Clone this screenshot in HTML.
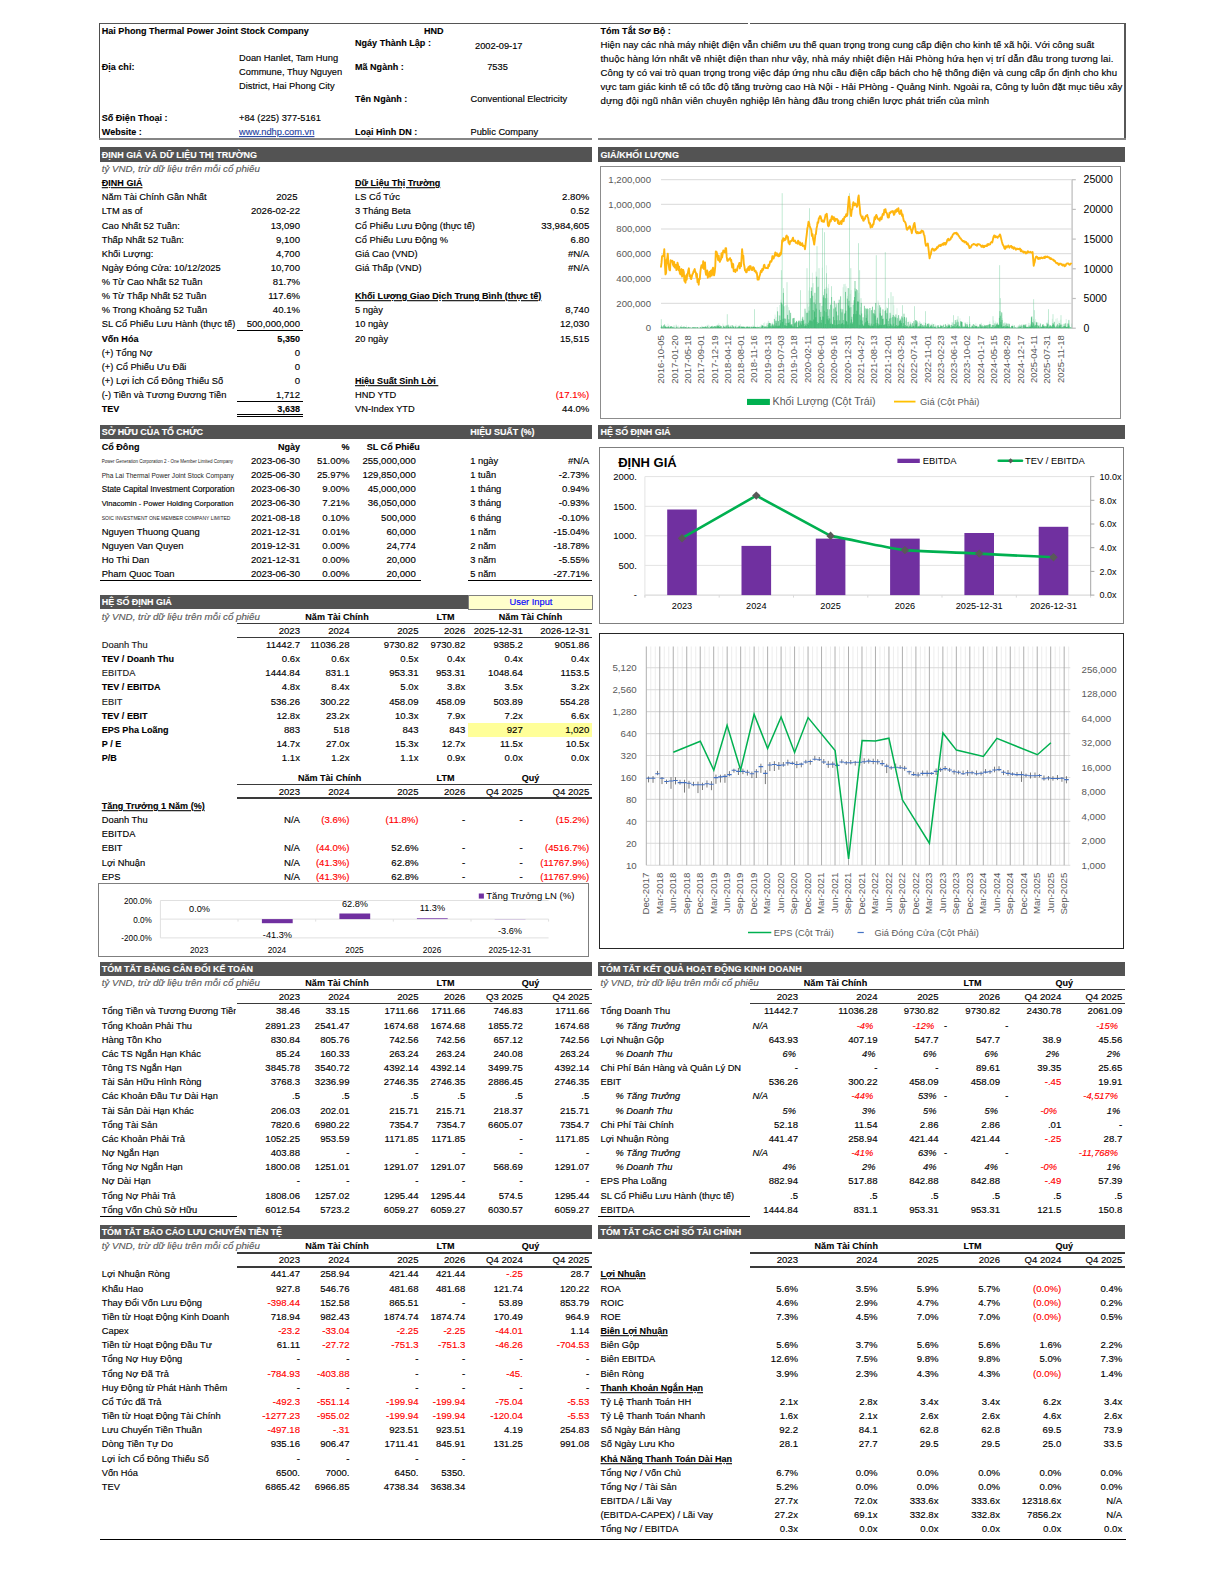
<!DOCTYPE html>
<html><head><meta charset="utf-8"><title>HND</title><style>
html,body{margin:0;padding:0;background:#fff}
#pg{position:relative;width:1224px;height:1584px;overflow:hidden;background:#fff;font-family:"Liberation Sans",sans-serif;font-size:9.3px;color:#000}
.t{position:absolute;white-space:nowrap;line-height:14px;height:14px;transform:scaleY(1.035);transform-origin:50% 62%;-webkit-text-stroke:0.14px currentColor}
.b{font-weight:bold;font-size:9.05px;transform:scaleY(1.07);-webkit-text-stroke:0.1px currentColor}
.i{font-style:italic;transform:none}
.u{text-decoration:underline}
.r{position:absolute}
svg{position:absolute;left:0;top:0;overflow:visible}
svg text{font-family:"Liberation Sans",sans-serif}
</style></head><body><div id="pg">
<div class="r" style="left:99.00px;top:22.90px;width:1027.00px;height:1.40px;background:#555;"></div>
<div class="r" style="left:748.00px;top:22.00px;width:2.00px;height:3.00px;background:#fff;"></div>
<div class="r" style="left:99.00px;top:23.00px;width:1.10px;height:116.80px;background:#4d4d4d;"></div>
<div class="r" style="left:1124.00px;top:23.00px;width:2.00px;height:116.80px;background:#575757;"></div>
<div class="r" style="left:99.00px;top:138.10px;width:493.00px;height:1.80px;background:#858585;"></div>
<div class="r" style="left:598.00px;top:138.10px;width:528.00px;height:1.80px;background:#858585;"></div>
<div class="t b" style="top:24.00px;left:101.75px">Hai Phong Thermal Power Joint Stock Company</div>
<div class="t b" style="top:24.00px;left:283.75px;width:300px;text-align:center">HND</div>
<div class="t b" style="top:60.10px;left:101.75px">Địa chỉ:</div>
<div class="t" style="top:51.20px;left:239.00px">Doan Hanlet, Tam Hung</div>
<div class="t" style="top:65.20px;left:239.00px">Commune, Thuy Nguyen</div>
<div class="t" style="top:79.20px;left:239.00px">District, Hai Phong City</div>
<div class="t b" style="top:110.70px;left:101.75px">Số Điện Thoại :</div>
<div class="t" style="top:110.70px;left:239.00px">+84 (225) 377-5161</div>
<div class="t b" style="top:124.70px;left:101.75px">Website :</div>
<div class="t u" style="top:124.70px;left:239.00px;color:#1f3f9f">www.ndhp.com.vn</div>
<div class="t b" style="top:35.90px;left:355.00px">Ngáy Thành Lập :</div>
<div class="t" style="top:39.00px;left:348.75px;width:300px;text-align:center">2002-09-17</div>
<div class="t b" style="top:60.10px;left:355.00px">Mã Ngành :</div>
<div class="t" style="top:60.10px;left:347.50px;width:300px;text-align:center">7535</div>
<div class="t b" style="top:92.10px;left:355.00px">Tên Ngành :</div>
<div class="t" style="top:92.10px;left:470.50px">Conventional Electricity</div>
<div class="t b" style="top:125.00px;left:355.00px">Loại Hình DN :</div>
<div class="t" style="top:125.00px;left:470.50px">Public Company</div>
<div class="t b" style="top:24.00px;left:600.50px">Tóm Tắt Sơ Bộ :</div>
<div class="t" style="top:37.90px;left:600.50px;font-size:9.6px;letter-spacing:0.004px">Hiện nay các nhà máy nhiệt điện vẫn chiếm ưu thế quan trọng trong cung cấp điện cho kinh tế xã hội. Với công suất</div>
<div class="t" style="top:51.90px;left:600.50px;font-size:9.6px;letter-spacing:0.122px">thuộc hàng lớn nhất về nhiệt điện than như vậy, nhà máy nhiệt điện Hải Phòng hứa hẹn vị trí dẫn đầu trong tương lai.</div>
<div class="t" style="top:65.90px;left:600.50px;font-size:9.6px;letter-spacing:0.067px">Công ty có vai trò quan trọng trong việc đáp ứng nhu cầu điện cấp bách cho hệ thống điện và cung cấp ổn định cho khu</div>
<div class="t" style="top:79.90px;left:600.50px;font-size:9.6px;letter-spacing:0.026px">vực tam giác kinh tế có tốc độ tăng trường cao Hà Nội - Hải PHòng - Quảng Ninh. Ngoài ra, Công ty luôn đặt mục tiêu xây</div>
<div class="t" style="top:93.90px;left:600.50px;font-size:9.6px;letter-spacing:0.086px">dựng đội ngũ nhân viên chuyên nghiệp lên hàng đầu trong chiến lược phát triển của mình</div>
<div class="r" style="left:100.00px;top:147.10px;width:492.00px;height:14.50px;background:#535353;"></div>
<div class="t b" style="top:147.55px;left:101.75px;color:#fff;font-size:9.0px;transform:scaleY(1.1);letter-spacing:0.005px">ĐỊNH GIÁ VÀ DỮ LIỆU THỊ TRƯỜNG</div>
<div class="t i" style="top:162.12px;left:101.75px;color:#595959;font-size:9.75px">tỷ VND, trừ dữ liệu trên mỗi cổ phiếu</div>
<div class="t b u" style="top:176.24px;left:101.75px">ĐỊNH GIÁ</div>
<div class="t" style="top:190.36px;left:101.75px">Năm Tài Chính Gần Nhất</div>
<div class="t" style="top:190.36px;right:926.50px;font-size:9.6px">2025</div>
<div class="t" style="top:204.48px;left:101.75px">LTM as of</div>
<div class="t" style="top:204.48px;right:924.00px;font-size:9.6px">2026-02-22</div>
<div class="t" style="top:218.60px;left:101.75px">Cao Nhất 52 Tuần:</div>
<div class="t" style="top:218.60px;right:924.00px;font-size:9.6px">13,090</div>
<div class="t" style="top:232.72px;left:101.75px">Thấp Nhất 52 Tuần:</div>
<div class="t" style="top:232.72px;right:924.00px;font-size:9.6px">9,100</div>
<div class="t" style="top:246.84px;left:101.75px">Khối Lượng:</div>
<div class="t" style="top:246.84px;right:924.00px;font-size:9.6px">4,700</div>
<div class="t" style="top:260.96px;left:101.75px">Ngày Đóng Cửa: 10/12/2025</div>
<div class="t" style="top:260.96px;right:924.00px;font-size:9.6px">10,700</div>
<div class="t" style="top:275.08px;left:101.75px">% Từ Cao Nhất 52 Tuần</div>
<div class="t" style="top:275.08px;right:924.00px;font-size:9.6px">81.7%</div>
<div class="t" style="top:289.20px;left:101.75px">% Từ Thấp Nhất 52 Tuần</div>
<div class="t" style="top:289.20px;right:924.00px;font-size:9.6px">117.6%</div>
<div class="t" style="top:303.32px;left:101.75px">% Trong Khoảng 52 Tuần</div>
<div class="t" style="top:303.32px;right:924.00px;font-size:9.6px">40.1%</div>
<div class="t" style="top:317.44px;left:101.75px">SL Cổ Phiếu Lưu Hành (thực tế)</div>
<div class="t" style="top:317.44px;right:924.00px;font-size:9.6px">500,000,000</div>
<div class="t b" style="top:331.56px;left:101.75px">Vốn Hóa</div>
<div class="t b" style="top:331.56px;right:924.00px">5,350</div>
<div class="t" style="top:345.68px;left:101.75px">(+) Tổng Nợ</div>
<div class="t" style="top:345.68px;right:924.00px;font-size:9.6px">0</div>
<div class="t" style="top:359.80px;left:101.75px">(+) Cổ Phiếu Ưu Đãi</div>
<div class="t" style="top:359.80px;right:924.00px;font-size:9.6px">0</div>
<div class="t" style="top:373.92px;left:101.75px">(+) Lợi Ích Cổ Đông Thiếu Số</div>
<div class="t" style="top:373.92px;right:924.00px;font-size:9.6px">0</div>
<div class="t" style="top:388.04px;left:101.75px">(-) Tiền và Tương Đương Tiền</div>
<div class="t" style="top:388.04px;right:924.00px;font-size:9.6px">1,712</div>
<div class="t b" style="top:402.16px;left:101.75px">TEV</div>
<div class="t b" style="top:402.16px;right:924.00px">3,638</div>
<div class="r" style="left:236.75px;top:330.14px;width:66.00px;height:1.00px;background:#000;"></div>
<div class="r" style="left:236.75px;top:400.74px;width:66.00px;height:1.00px;background:#000;"></div>
<div class="r" style="left:236.75px;top:413.86px;width:66.00px;height:1.00px;background:#000;"></div>
<div class="r" style="left:236.75px;top:416.06px;width:66.00px;height:1.00px;background:#000;"></div>
<div class="t b u" style="top:176.24px;left:355.00px">Dữ Liệu Thị Trường</div>
<div class="t" style="top:190.36px;left:355.00px">LS Cổ Tức</div>
<div class="t" style="top:190.36px;right:634.75px;font-size:9.6px">2.80%</div>
<div class="t" style="top:204.48px;left:355.00px">3 Tháng Beta</div>
<div class="t" style="top:204.48px;right:634.75px;font-size:9.6px">0.52</div>
<div class="t" style="top:218.60px;left:355.00px">Cổ Phiếu Lưu Động (thực tế)</div>
<div class="t" style="top:218.60px;right:634.75px;font-size:9.6px">33,984,605</div>
<div class="t" style="top:232.72px;left:355.00px">Cổ Phiếu Lưu Động %</div>
<div class="t" style="top:232.72px;right:634.75px;font-size:9.6px">6.80</div>
<div class="t" style="top:246.84px;left:355.00px">Giá Cao (VND)</div>
<div class="t" style="top:246.84px;right:634.75px;font-size:9.6px">#N/A</div>
<div class="t" style="top:260.96px;left:355.00px">Giá Thấp (VND)</div>
<div class="t" style="top:260.96px;right:634.75px;font-size:9.6px">#N/A</div>
<div class="t b u" style="top:289.20px;left:355.00px">Khối Lượng Giao Dịch Trung Bình (thực tế)</div>
<div class="t" style="top:303.32px;left:355.00px">5 ngày</div>
<div class="t" style="top:303.32px;right:634.75px;font-size:9.6px">8,740</div>
<div class="t" style="top:317.44px;left:355.00px">10 ngày</div>
<div class="t" style="top:317.44px;right:634.75px;font-size:9.6px">12,030</div>
<div class="t" style="top:331.56px;left:355.00px">20 ngày</div>
<div class="t" style="top:331.56px;right:634.75px;font-size:9.6px">15,515</div>
<div class="t b u" style="top:373.92px;left:355.00px;white-space:pre">Hiệu Suất Sinh Lời </div>
<div class="t" style="top:388.04px;left:355.00px">HND YTD</div>
<div class="t" style="top:388.04px;right:634.75px;color:#ff0000;font-size:9.6px">(17.1%)</div>
<div class="t" style="top:402.16px;left:355.00px">VN-Index YTD</div>
<div class="t" style="top:402.16px;right:634.75px;font-size:9.6px">44.0%</div>
<div class="r" style="left:100.00px;top:424.50px;width:492.00px;height:14.00px;background:#535353;"></div>
<div class="t b" style="top:424.70px;left:101.75px;color:#fff;font-size:9.0px;transform:scaleY(1.1);letter-spacing:-0.085px">SỞ HỮU CỦA TỔ CHỨC</div>
<div class="t b" style="top:425.00px;left:470.25px;color:#fff;font-size:9.0px;transform:scaleY(1.1);letter-spacing:-0.058px">HIỆU SUẤT (%)</div>
<div class="t b" style="top:439.67px;left:101.75px">Cổ Đông</div>
<div class="t b" style="top:439.67px;right:924.00px">Ngày</div>
<div class="t b" style="top:439.67px;right:874.50px">%</div>
<div class="t b" style="top:439.67px;left:243.25px;width:300px;text-align:center">SL Cổ Phiếu</div>
<div class="t" style="top:454.74px;left:101.75px;font-size:4.5px;-webkit-text-stroke:0;color:#222">Power Generation Corporation 2 - One Member Limited Company</div>
<div class="t" style="top:453.84px;right:924.00px;font-size:9.6px">2023-06-30</div>
<div class="t" style="top:453.84px;right:874.50px;font-size:9.6px">51.00%</div>
<div class="t" style="top:453.84px;right:808.25px;font-size:9.6px">255,000,000</div>
<div class="t" style="top:453.84px;left:470.25px">1 ngày</div>
<div class="t" style="top:453.84px;right:634.75px;font-size:9.6px">#N/A</div>
<div class="t" style="top:468.91px;left:101.75px;font-size:6.55px;-webkit-text-stroke:0;color:#222">Pha Lai Thermal Power Joint Stock Company</div>
<div class="t" style="top:468.01px;right:924.00px;font-size:9.6px">2025-06-30</div>
<div class="t" style="top:468.01px;right:874.50px;font-size:9.6px">25.97%</div>
<div class="t" style="top:468.01px;right:808.25px;font-size:9.6px">129,850,000</div>
<div class="t" style="top:468.01px;left:470.25px">1 tuần</div>
<div class="t" style="top:468.01px;right:634.75px;font-size:9.6px">-2.73%</div>
<div class="t" style="top:483.08px;left:101.75px;font-size:8.1px">State Capital Investment Corporation</div>
<div class="t" style="top:482.18px;right:924.00px;font-size:9.6px">2023-06-30</div>
<div class="t" style="top:482.18px;right:874.50px;font-size:9.6px">9.00%</div>
<div class="t" style="top:482.18px;right:808.25px;font-size:9.6px">45,000,000</div>
<div class="t" style="top:482.18px;left:470.25px">1 tháng</div>
<div class="t" style="top:482.18px;right:634.75px;font-size:9.6px">0.94%</div>
<div class="t" style="top:497.25px;left:101.75px;font-size:7.5px">Vinacomin - Power Holding Corporation</div>
<div class="t" style="top:496.35px;right:924.00px;font-size:9.6px">2023-06-30</div>
<div class="t" style="top:496.35px;right:874.50px;font-size:9.6px">7.21%</div>
<div class="t" style="top:496.35px;right:808.25px;font-size:9.6px">36,050,000</div>
<div class="t" style="top:496.35px;left:470.25px">3 tháng</div>
<div class="t" style="top:496.35px;right:634.75px;font-size:9.6px">-0.93%</div>
<div class="t" style="top:511.42px;left:101.75px;font-size:5.0px;-webkit-text-stroke:0;color:#222">SOIC INVESTMENT ONE MEMBER COMPANY LIMITED</div>
<div class="t" style="top:510.52px;right:924.00px;font-size:9.6px">2021-08-18</div>
<div class="t" style="top:510.52px;right:874.50px;font-size:9.6px">0.10%</div>
<div class="t" style="top:510.52px;right:808.25px;font-size:9.6px">500,000</div>
<div class="t" style="top:510.52px;left:470.25px">6 tháng</div>
<div class="t" style="top:510.52px;right:634.75px;font-size:9.6px">-0.10%</div>
<div class="t" style="top:524.69px;left:101.75px;font-size:9.45px">Nguyen Thuong Quang</div>
<div class="t" style="top:524.69px;right:924.00px;font-size:9.6px">2021-12-31</div>
<div class="t" style="top:524.69px;right:874.50px;font-size:9.6px">0.01%</div>
<div class="t" style="top:524.69px;right:808.25px;font-size:9.6px">60,000</div>
<div class="t" style="top:524.69px;left:470.25px">1 năm</div>
<div class="t" style="top:524.69px;right:634.75px;font-size:9.6px">-15.04%</div>
<div class="t" style="top:538.86px;left:101.75px;font-size:9.45px">Nguyen Van Quyen</div>
<div class="t" style="top:538.86px;right:924.00px;font-size:9.6px">2019-12-31</div>
<div class="t" style="top:538.86px;right:874.50px;font-size:9.6px">0.00%</div>
<div class="t" style="top:538.86px;right:808.25px;font-size:9.6px">24,774</div>
<div class="t" style="top:538.86px;left:470.25px">2 năm</div>
<div class="t" style="top:538.86px;right:634.75px;font-size:9.6px">-18.78%</div>
<div class="t" style="top:553.03px;left:101.75px;font-size:9.45px">Ho Thi Dan</div>
<div class="t" style="top:553.03px;right:924.00px;font-size:9.6px">2021-12-31</div>
<div class="t" style="top:553.03px;right:874.50px;font-size:9.6px">0.00%</div>
<div class="t" style="top:553.03px;right:808.25px;font-size:9.6px">20,000</div>
<div class="t" style="top:553.03px;left:470.25px">3 năm</div>
<div class="t" style="top:553.03px;right:634.75px;font-size:9.6px">-5.55%</div>
<div class="t" style="top:567.20px;left:101.75px;font-size:9.45px">Pham Quoc Toan</div>
<div class="t" style="top:567.20px;right:924.00px;font-size:9.6px">2023-06-30</div>
<div class="t" style="top:567.20px;right:874.50px;font-size:9.6px">0.00%</div>
<div class="t" style="top:567.20px;right:808.25px;font-size:9.6px">20,000</div>
<div class="t" style="top:567.20px;left:470.25px">5 năm</div>
<div class="t" style="top:567.20px;right:634.75px;font-size:9.6px">-27.71%</div>
<div class="r" style="left:99.50px;top:580.15px;width:321.50px;height:1.30px;background:#000;"></div>
<div class="r" style="left:468.00px;top:580.15px;width:124.00px;height:1.30px;background:#000;"></div>
<div class="r" style="left:100.00px;top:595.00px;width:368.00px;height:13.90px;background:#535353;"></div>
<div class="t b" style="top:595.15px;left:101.75px;color:#fff;font-size:9.0px;transform:scaleY(1.1);letter-spacing:-0.073px">HỆ SỐ ĐỊNH GIÁ</div>
<div class="r" style="left:468px;top:594.5px;width:123px;height:13.8px;background:#ffffcc;border:1px solid #808080"></div>
<div class="t" style="top:595.30px;left:381.00px;width:300px;text-align:center;color:#0000ff">User Input</div>
<div class="t i" style="top:610.15px;left:101.75px;color:#595959;font-size:9.75px">tỷ VND, trừ dữ liệu trên mỗi cổ phiếu</div>
<div class="t b" style="top:610.15px;left:187.00px;width:300px;text-align:center">Năm Tài Chính</div>
<div class="t b" style="top:610.15px;left:295.50px;width:300px;text-align:center">LTM</div>
<div class="t b" style="top:610.15px;left:380.50px;width:300px;text-align:center">Năm Tài Chính</div>
<div class="r" style="left:236.75px;top:622.60px;width:355.25px;height:1.40px;background:#3a3a3a;"></div>
<div class="r" style="left:236.75px;top:636.65px;width:355.25px;height:1.70px;background:#3a3a3a;"></div>
<div class="t" style="top:624.15px;right:924.00px;font-size:9.6px">2023</div>
<div class="t" style="top:624.15px;right:874.50px;font-size:9.6px">2024</div>
<div class="t" style="top:624.15px;right:805.50px;font-size:9.6px">2025</div>
<div class="t" style="top:624.15px;right:758.75px;font-size:9.6px">2026</div>
<div class="t" style="top:624.15px;right:701.25px;font-size:9.6px">2025-12-31</div>
<div class="t" style="top:624.15px;right:634.75px;font-size:9.6px">2026-12-31</div>
<div class="r" style="left:468.00px;top:722.60px;width:124.00px;height:14.20px;background:#ffff99;"></div>
<div class="t" style="top:638.15px;left:101.75px;color:#1a1a1a">Doanh Thu</div>
<div class="t" style="top:638.15px;right:924.00px;font-size:9.6px">11442.7</div>
<div class="t" style="top:638.15px;right:874.50px;font-size:9.6px">11036.28</div>
<div class="t" style="top:638.15px;right:805.50px;font-size:9.6px">9730.82</div>
<div class="t" style="top:638.15px;right:758.75px;font-size:9.6px">9730.82</div>
<div class="t" style="top:638.15px;right:701.25px;font-size:9.6px">9385.2</div>
<div class="t" style="top:638.15px;right:634.75px;font-size:9.6px">9051.86</div>
<div class="t b" style="top:652.15px;left:101.75px;color:#000">TEV / Doanh Thu</div>
<div class="t" style="top:652.15px;right:924.00px;font-size:9.6px">0.6x</div>
<div class="t" style="top:652.15px;right:874.50px;font-size:9.6px">0.6x</div>
<div class="t" style="top:652.15px;right:805.50px;font-size:9.6px">0.5x</div>
<div class="t" style="top:652.15px;right:758.75px;font-size:9.6px">0.4x</div>
<div class="t" style="top:652.15px;right:701.25px;font-size:9.6px">0.4x</div>
<div class="t" style="top:652.15px;right:634.75px;font-size:9.6px">0.4x</div>
<div class="t" style="top:666.15px;left:101.75px;color:#1a1a1a">EBITDA</div>
<div class="t" style="top:666.15px;right:924.00px;font-size:9.6px">1444.84</div>
<div class="t" style="top:666.15px;right:874.50px;font-size:9.6px">831.1</div>
<div class="t" style="top:666.15px;right:805.50px;font-size:9.6px">953.31</div>
<div class="t" style="top:666.15px;right:758.75px;font-size:9.6px">953.31</div>
<div class="t" style="top:666.15px;right:701.25px;font-size:9.6px">1048.64</div>
<div class="t" style="top:666.15px;right:634.75px;font-size:9.6px">1153.5</div>
<div class="t b" style="top:680.15px;left:101.75px;color:#000">TEV / EBITDA</div>
<div class="t" style="top:680.15px;right:924.00px;font-size:9.6px">4.8x</div>
<div class="t" style="top:680.15px;right:874.50px;font-size:9.6px">8.4x</div>
<div class="t" style="top:680.15px;right:805.50px;font-size:9.6px">5.0x</div>
<div class="t" style="top:680.15px;right:758.75px;font-size:9.6px">3.8x</div>
<div class="t" style="top:680.15px;right:701.25px;font-size:9.6px">3.5x</div>
<div class="t" style="top:680.15px;right:634.75px;font-size:9.6px">3.2x</div>
<div class="t" style="top:694.65px;left:101.75px;color:#1a1a1a">EBIT</div>
<div class="t" style="top:694.65px;right:924.00px;font-size:9.6px">536.26</div>
<div class="t" style="top:694.65px;right:874.50px;font-size:9.6px">300.22</div>
<div class="t" style="top:694.65px;right:805.50px;font-size:9.6px">458.09</div>
<div class="t" style="top:694.65px;right:758.75px;font-size:9.6px">458.09</div>
<div class="t" style="top:694.65px;right:701.25px;font-size:9.6px">503.89</div>
<div class="t" style="top:694.65px;right:634.75px;font-size:9.6px">554.28</div>
<div class="t b" style="top:708.90px;left:101.75px;color:#000">TEV / EBIT</div>
<div class="t" style="top:708.90px;right:924.00px;font-size:9.6px">12.8x</div>
<div class="t" style="top:708.90px;right:874.50px;font-size:9.6px">23.2x</div>
<div class="t" style="top:708.90px;right:805.50px;font-size:9.6px">10.3x</div>
<div class="t" style="top:708.90px;right:758.75px;font-size:9.6px">7.9x</div>
<div class="t" style="top:708.90px;right:701.25px;font-size:9.6px">7.2x</div>
<div class="t" style="top:708.90px;right:634.75px;font-size:9.6px">6.6x</div>
<div class="t b" style="top:723.15px;left:101.75px;color:#000">EPS Pha Loãng</div>
<div class="t" style="top:723.15px;right:924.00px;font-size:9.6px">883</div>
<div class="t" style="top:723.15px;right:874.50px;font-size:9.6px">518</div>
<div class="t" style="top:723.15px;right:805.50px;font-size:9.6px">843</div>
<div class="t" style="top:723.15px;right:758.75px;font-size:9.6px">843</div>
<div class="t" style="top:723.15px;right:701.25px;font-size:9.6px">927</div>
<div class="t" style="top:723.15px;right:634.75px;font-size:9.6px">1,020</div>
<div class="t b" style="top:737.15px;left:101.75px;color:#000">P / E</div>
<div class="t" style="top:737.15px;right:924.00px;font-size:9.6px">14.7x</div>
<div class="t" style="top:737.15px;right:874.50px;font-size:9.6px">27.0x</div>
<div class="t" style="top:737.15px;right:805.50px;font-size:9.6px">15.3x</div>
<div class="t" style="top:737.15px;right:758.75px;font-size:9.6px">12.7x</div>
<div class="t" style="top:737.15px;right:701.25px;font-size:9.6px">11.5x</div>
<div class="t" style="top:737.15px;right:634.75px;font-size:9.6px">10.5x</div>
<div class="t b" style="top:751.15px;left:101.75px;color:#000">P/B</div>
<div class="t" style="top:751.15px;right:924.00px;font-size:9.6px">1.1x</div>
<div class="t" style="top:751.15px;right:874.50px;font-size:9.6px">1.2x</div>
<div class="t" style="top:751.15px;right:805.50px;font-size:9.6px">1.1x</div>
<div class="t" style="top:751.15px;right:758.75px;font-size:9.6px">0.9x</div>
<div class="t" style="top:751.15px;right:701.25px;font-size:9.6px">0.0x</div>
<div class="t" style="top:751.15px;right:634.75px;font-size:9.6px">0.0x</div>
<div class="t b" style="top:770.90px;left:179.60px;width:300px;text-align:center">Năm Tài Chính</div>
<div class="t b" style="top:770.90px;left:295.50px;width:300px;text-align:center">LTM</div>
<div class="t b" style="top:770.90px;left:380.50px;width:300px;text-align:center">Quý</div>
<div class="r" style="left:236.75px;top:783.60px;width:355.25px;height:1.40px;background:#3a3a3a;"></div>
<div class="r" style="left:236.75px;top:797.45px;width:355.25px;height:1.70px;background:#3a3a3a;"></div>
<div class="t" style="top:785.15px;right:924.00px;font-size:9.6px">2023</div>
<div class="t" style="top:785.15px;right:874.50px;font-size:9.6px">2024</div>
<div class="t" style="top:785.15px;right:805.50px;font-size:9.6px">2025</div>
<div class="t" style="top:785.15px;right:758.75px;font-size:9.6px">2026</div>
<div class="t" style="top:785.15px;right:701.25px;font-size:9.6px">Q4 2025</div>
<div class="t" style="top:785.15px;right:634.75px;font-size:9.6px">Q4 2025</div>
<div class="t b u" style="top:799.15px;left:101.75px">Tăng Trưởng 1 Năm (%)</div>
<div class="t" style="top:813.15px;left:101.75px">Doanh Thu</div>
<div class="t" style="top:813.15px;right:924.00px;font-size:9.6px">N/A</div>
<div class="t" style="top:813.15px;right:874.50px;color:#ff0000;font-size:9.6px">(3.6%)</div>
<div class="t" style="top:813.15px;right:805.50px;color:#ff0000;font-size:9.6px">(11.8%)</div>
<div class="t" style="top:813.15px;right:758.75px;font-size:9.6px">-</div>
<div class="t" style="top:813.15px;right:701.25px;font-size:9.6px">-</div>
<div class="t" style="top:813.15px;right:634.75px;color:#ff0000;font-size:9.6px">(15.2%)</div>
<div class="t" style="top:827.15px;left:101.75px">EBITDA</div>
<div class="t" style="top:841.15px;left:101.75px">EBIT</div>
<div class="t" style="top:841.15px;right:924.00px;font-size:9.6px">N/A</div>
<div class="t" style="top:841.15px;right:874.50px;color:#ff0000;font-size:9.6px">(44.0%)</div>
<div class="t" style="top:841.15px;right:805.50px;font-size:9.6px">52.6%</div>
<div class="t" style="top:841.15px;right:758.75px;font-size:9.6px">-</div>
<div class="t" style="top:841.15px;right:701.25px;font-size:9.6px">-</div>
<div class="t" style="top:841.15px;right:634.75px;color:#ff0000;font-size:9.6px">(4516.7%)</div>
<div class="t" style="top:855.90px;left:101.75px">Lợi Nhuận</div>
<div class="t" style="top:855.90px;right:924.00px;font-size:9.6px">N/A</div>
<div class="t" style="top:855.90px;right:874.50px;color:#ff0000;font-size:9.6px">(41.3%)</div>
<div class="t" style="top:855.90px;right:805.50px;font-size:9.6px">62.8%</div>
<div class="t" style="top:855.90px;right:758.75px;font-size:9.6px">-</div>
<div class="t" style="top:855.90px;right:701.25px;font-size:9.6px">-</div>
<div class="t" style="top:855.90px;right:634.75px;color:#ff0000;font-size:9.6px">(11767.9%)</div>
<div class="t" style="top:870.15px;left:101.75px">EPS</div>
<div class="t" style="top:870.15px;right:924.00px;font-size:9.6px">N/A</div>
<div class="t" style="top:870.15px;right:874.50px;color:#ff0000;font-size:9.6px">(41.3%)</div>
<div class="t" style="top:870.15px;right:805.50px;font-size:9.6px">62.8%</div>
<div class="t" style="top:870.15px;right:758.75px;font-size:9.6px">-</div>
<div class="t" style="top:870.15px;right:701.25px;font-size:9.6px">-</div>
<div class="t" style="top:870.15px;right:634.75px;color:#ff0000;font-size:9.6px">(11767.9%)</div>
<div class="r" style="left:100.00px;top:962.00px;width:492.00px;height:13.60px;background:#535353;"></div>
<div class="t b" style="top:962.00px;left:101.75px;color:#fff;font-size:9.0px;transform:scaleY(1.1);letter-spacing:-0.039px">TÓM TẮT BẢNG CÂN ĐỐI KẾ TOÁN</div>
<div class="t i" style="top:975.90px;left:101.75px;color:#595959;font-size:9.75px">tỷ VND, trừ dữ liệu trên mỗi cổ phiếu</div>
<div class="t b" style="top:975.90px;left:187.00px;width:300px;text-align:center">Năm Tài Chính</div>
<div class="t b" style="top:975.90px;left:295.50px;width:300px;text-align:center">LTM</div>
<div class="t b" style="top:975.90px;left:380.50px;width:300px;text-align:center">Quý</div>
<div class="t" style="top:989.90px;right:924.00px;font-size:9.6px">2023</div>
<div class="t" style="top:989.90px;right:874.50px;font-size:9.6px">2024</div>
<div class="t" style="top:989.90px;right:805.50px;font-size:9.6px">2025</div>
<div class="t" style="top:989.90px;right:758.75px;font-size:9.6px">2026</div>
<div class="t" style="top:989.90px;right:701.25px;font-size:9.6px">Q3 2025</div>
<div class="t" style="top:989.90px;right:634.75px;font-size:9.6px">Q4 2025</div>
<div class="r" style="left:236.75px;top:988.90px;width:355.25px;height:1.40px;background:#3a3a3a;"></div>
<div class="r" style="left:236.75px;top:1002.75px;width:355.25px;height:1.70px;background:#3a3a3a;"></div>
<div class="t" style="left:101.75px;top:1003.90px;width:134.5px;overflow:hidden">Tổng Tiền và Tương Đương Tiền</div>
<div class="t" style="top:1003.90px;right:924.00px;font-size:9.6px">38.46</div>
<div class="t" style="top:1003.90px;right:874.50px;font-size:9.6px">33.15</div>
<div class="t" style="top:1003.90px;right:805.50px;font-size:9.6px">1711.66</div>
<div class="t" style="top:1003.90px;right:758.75px;font-size:9.6px">1711.66</div>
<div class="t" style="top:1003.90px;right:701.25px;font-size:9.6px">746.83</div>
<div class="t" style="top:1003.90px;right:634.75px;font-size:9.6px">1711.66</div>
<div class="t" style="top:1018.65px;left:101.75px">Tổng Khoản Phải Thu</div>
<div class="t" style="top:1018.65px;right:924.00px;font-size:9.6px">2891.23</div>
<div class="t" style="top:1018.65px;right:874.50px;font-size:9.6px">2541.47</div>
<div class="t" style="top:1018.65px;right:805.50px;font-size:9.6px">1674.68</div>
<div class="t" style="top:1018.65px;right:758.75px;font-size:9.6px">1674.68</div>
<div class="t" style="top:1018.65px;right:701.25px;font-size:9.6px">1855.72</div>
<div class="t" style="top:1018.65px;right:634.75px;font-size:9.6px">1674.68</div>
<div class="t" style="top:1032.90px;left:101.75px">Hàng Tồn Kho</div>
<div class="t" style="top:1032.90px;right:924.00px;font-size:9.6px">830.84</div>
<div class="t" style="top:1032.90px;right:874.50px;font-size:9.6px">805.76</div>
<div class="t" style="top:1032.90px;right:805.50px;font-size:9.6px">742.56</div>
<div class="t" style="top:1032.90px;right:758.75px;font-size:9.6px">742.56</div>
<div class="t" style="top:1032.90px;right:701.25px;font-size:9.6px">657.12</div>
<div class="t" style="top:1032.90px;right:634.75px;font-size:9.6px">742.56</div>
<div class="t" style="top:1046.90px;left:101.75px">Các TS Ngắn Hạn Khác</div>
<div class="t" style="top:1046.90px;right:924.00px;font-size:9.6px">85.24</div>
<div class="t" style="top:1046.90px;right:874.50px;font-size:9.6px">160.33</div>
<div class="t" style="top:1046.90px;right:805.50px;font-size:9.6px">263.24</div>
<div class="t" style="top:1046.90px;right:758.75px;font-size:9.6px">263.24</div>
<div class="t" style="top:1046.90px;right:701.25px;font-size:9.6px">240.08</div>
<div class="t" style="top:1046.90px;right:634.75px;font-size:9.6px">263.24</div>
<div class="t" style="top:1060.90px;left:101.75px">Tông TS Ngắn Hạn</div>
<div class="t" style="top:1060.90px;right:924.00px;font-size:9.6px">3845.78</div>
<div class="t" style="top:1060.90px;right:874.50px;font-size:9.6px">3540.72</div>
<div class="t" style="top:1060.90px;right:805.50px;font-size:9.6px">4392.14</div>
<div class="t" style="top:1060.90px;right:758.75px;font-size:9.6px">4392.14</div>
<div class="t" style="top:1060.90px;right:701.25px;font-size:9.6px">3499.75</div>
<div class="t" style="top:1060.90px;right:634.75px;font-size:9.6px">4392.14</div>
<div class="t" style="top:1074.90px;left:101.75px">Tài Sản Hữu Hình Ròng</div>
<div class="t" style="top:1074.90px;right:924.00px;font-size:9.6px">3768.3</div>
<div class="t" style="top:1074.90px;right:874.50px;font-size:9.6px">3236.99</div>
<div class="t" style="top:1074.90px;right:805.50px;font-size:9.6px">2746.35</div>
<div class="t" style="top:1074.90px;right:758.75px;font-size:9.6px">2746.35</div>
<div class="t" style="top:1074.90px;right:701.25px;font-size:9.6px">2886.45</div>
<div class="t" style="top:1074.90px;right:634.75px;font-size:9.6px">2746.35</div>
<div class="t" style="top:1088.90px;left:101.75px">Các Khoản Đầu Tư Dài Hạn</div>
<div class="t" style="top:1088.90px;right:924.00px;font-size:9.6px">.5</div>
<div class="t" style="top:1088.90px;right:874.50px;font-size:9.6px">.5</div>
<div class="t" style="top:1088.90px;right:805.50px;font-size:9.6px">.5</div>
<div class="t" style="top:1088.90px;right:758.75px;font-size:9.6px">.5</div>
<div class="t" style="top:1088.90px;right:701.25px;font-size:9.6px">.5</div>
<div class="t" style="top:1088.90px;right:634.75px;font-size:9.6px">.5</div>
<div class="t" style="top:1103.65px;left:101.75px">Tài Sản Dài Hạn Khác</div>
<div class="t" style="top:1103.65px;right:924.00px;font-size:9.6px">206.03</div>
<div class="t" style="top:1103.65px;right:874.50px;font-size:9.6px">202.01</div>
<div class="t" style="top:1103.65px;right:805.50px;font-size:9.6px">215.71</div>
<div class="t" style="top:1103.65px;right:758.75px;font-size:9.6px">215.71</div>
<div class="t" style="top:1103.65px;right:701.25px;font-size:9.6px">218.37</div>
<div class="t" style="top:1103.65px;right:634.75px;font-size:9.6px">215.71</div>
<div class="t" style="top:1117.90px;left:101.75px">Tổng Tài Sản</div>
<div class="t" style="top:1117.90px;right:924.00px;font-size:9.6px">7820.6</div>
<div class="t" style="top:1117.90px;right:874.50px;font-size:9.6px">6980.22</div>
<div class="t" style="top:1117.90px;right:805.50px;font-size:9.6px">7354.7</div>
<div class="t" style="top:1117.90px;right:758.75px;font-size:9.6px">7354.7</div>
<div class="t" style="top:1117.90px;right:701.25px;font-size:9.6px">6605.07</div>
<div class="t" style="top:1117.90px;right:634.75px;font-size:9.6px">7354.7</div>
<div class="t" style="top:1131.90px;left:101.75px">Các Khoản Phải Trả</div>
<div class="t" style="top:1131.90px;right:924.00px;font-size:9.6px">1052.25</div>
<div class="t" style="top:1131.90px;right:874.50px;font-size:9.6px">953.59</div>
<div class="t" style="top:1131.90px;right:805.50px;font-size:9.6px">1171.85</div>
<div class="t" style="top:1131.90px;right:758.75px;font-size:9.6px">1171.85</div>
<div class="t" style="top:1131.90px;right:701.25px;font-size:9.6px">-</div>
<div class="t" style="top:1131.90px;right:634.75px;font-size:9.6px">1171.85</div>
<div class="t" style="top:1145.90px;left:101.75px">Nợ Ngắn Hạn</div>
<div class="t" style="top:1145.90px;right:924.00px;font-size:9.6px">403.88</div>
<div class="t" style="top:1145.90px;right:874.50px;font-size:9.6px">-</div>
<div class="t" style="top:1145.90px;right:805.50px;font-size:9.6px">-</div>
<div class="t" style="top:1145.90px;right:758.75px;font-size:9.6px">-</div>
<div class="t" style="top:1145.90px;right:701.25px;font-size:9.6px">-</div>
<div class="t" style="top:1145.90px;right:634.75px;font-size:9.6px">-</div>
<div class="t" style="top:1159.90px;left:101.75px">Tổng Nợ Ngắn Hạn</div>
<div class="t" style="top:1159.90px;right:924.00px;font-size:9.6px">1800.08</div>
<div class="t" style="top:1159.90px;right:874.50px;font-size:9.6px">1251.01</div>
<div class="t" style="top:1159.90px;right:805.50px;font-size:9.6px">1291.07</div>
<div class="t" style="top:1159.90px;right:758.75px;font-size:9.6px">1291.07</div>
<div class="t" style="top:1159.90px;right:701.25px;font-size:9.6px">568.69</div>
<div class="t" style="top:1159.90px;right:634.75px;font-size:9.6px">1291.07</div>
<div class="t" style="top:1173.90px;left:101.75px">Nợ Dài Hạn</div>
<div class="t" style="top:1173.90px;right:924.00px;font-size:9.6px">-</div>
<div class="t" style="top:1173.90px;right:874.50px;font-size:9.6px">-</div>
<div class="t" style="top:1173.90px;right:805.50px;font-size:9.6px">-</div>
<div class="t" style="top:1173.90px;right:758.75px;font-size:9.6px">-</div>
<div class="t" style="top:1173.90px;right:701.25px;font-size:9.6px">-</div>
<div class="t" style="top:1173.90px;right:634.75px;font-size:9.6px">-</div>
<div class="t" style="top:1188.65px;left:101.75px">Tổng Nợ Phải Trả</div>
<div class="t" style="top:1188.65px;right:924.00px;font-size:9.6px">1808.06</div>
<div class="t" style="top:1188.65px;right:874.50px;font-size:9.6px">1257.02</div>
<div class="t" style="top:1188.65px;right:805.50px;font-size:9.6px">1295.44</div>
<div class="t" style="top:1188.65px;right:758.75px;font-size:9.6px">1295.44</div>
<div class="t" style="top:1188.65px;right:701.25px;font-size:9.6px">574.5</div>
<div class="t" style="top:1188.65px;right:634.75px;font-size:9.6px">1295.44</div>
<div class="t" style="top:1202.90px;left:101.75px">Tổng Vốn Chủ Sở Hữu</div>
<div class="t" style="top:1202.90px;right:924.00px;font-size:9.6px">6012.54</div>
<div class="t" style="top:1202.90px;right:874.50px;font-size:9.6px">5723.2</div>
<div class="t" style="top:1202.90px;right:805.50px;font-size:9.6px">6059.27</div>
<div class="t" style="top:1202.90px;right:758.75px;font-size:9.6px">6059.27</div>
<div class="t" style="top:1202.90px;right:701.25px;font-size:9.6px">6030.57</div>
<div class="t" style="top:1202.90px;right:634.75px;font-size:9.6px">6059.27</div>
<div class="r" style="left:99.50px;top:1215.65px;width:137.25px;height:1.30px;background:#000;"></div>
<div class="r" style="left:100.00px;top:1225.00px;width:492.00px;height:13.80px;background:#535353;"></div>
<div class="t b" style="top:1225.10px;left:101.75px;color:#fff;font-size:9.0px;transform:scaleY(1.1);letter-spacing:-0.124px">TÓM TẮT BÁO CÁO LƯU CHUYỂN TIỀN TỆ</div>
<div class="t i" style="top:1239.15px;left:101.75px;color:#595959;font-size:9.75px">tỷ VND, trừ dữ liệu trên mỗi cổ phiếu</div>
<div class="t b" style="top:1239.15px;left:187.00px;width:300px;text-align:center">Năm Tài Chính</div>
<div class="t b" style="top:1239.15px;left:295.50px;width:300px;text-align:center">LTM</div>
<div class="t b" style="top:1239.15px;left:380.50px;width:300px;text-align:center">Quý</div>
<div class="t" style="top:1253.15px;right:924.00px;font-size:9.6px">2023</div>
<div class="t" style="top:1253.15px;right:874.50px;font-size:9.6px">2024</div>
<div class="t" style="top:1253.15px;right:805.50px;font-size:9.6px">2025</div>
<div class="t" style="top:1253.15px;right:758.75px;font-size:9.6px">2026</div>
<div class="t" style="top:1253.15px;right:701.25px;font-size:9.6px">Q4 2024</div>
<div class="t" style="top:1253.15px;right:634.75px;font-size:9.6px">Q4 2025</div>
<div class="r" style="left:236.75px;top:1252.30px;width:355.25px;height:1.40px;background:#3a3a3a;"></div>
<div class="r" style="left:236.75px;top:1266.05px;width:355.25px;height:1.70px;background:#3a3a3a;"></div>
<div class="t" style="top:1267.15px;left:101.75px">Lợi Nhuận Ròng</div>
<div class="t" style="top:1267.15px;right:924.00px;font-size:9.6px">441.47</div>
<div class="t" style="top:1267.15px;right:874.50px;font-size:9.6px">258.94</div>
<div class="t" style="top:1267.15px;right:805.50px;font-size:9.6px">421.44</div>
<div class="t" style="top:1267.15px;right:758.75px;font-size:9.6px">421.44</div>
<div class="t" style="top:1267.15px;right:701.25px;color:#ff0000;font-size:9.6px">-.25</div>
<div class="t" style="top:1267.15px;right:634.75px;font-size:9.6px">28.7</div>
<div class="t" style="top:1281.90px;left:101.75px">Khấu Hao</div>
<div class="t" style="top:1281.90px;right:924.00px;font-size:9.6px">927.8</div>
<div class="t" style="top:1281.90px;right:874.50px;font-size:9.6px">546.76</div>
<div class="t" style="top:1281.90px;right:805.50px;font-size:9.6px">481.68</div>
<div class="t" style="top:1281.90px;right:758.75px;font-size:9.6px">481.68</div>
<div class="t" style="top:1281.90px;right:701.25px;font-size:9.6px">121.74</div>
<div class="t" style="top:1281.90px;right:634.75px;font-size:9.6px">120.22</div>
<div class="t" style="top:1296.00px;left:101.75px">Thay Đổi Vốn Lưu Động</div>
<div class="t" style="top:1296.00px;right:924.00px;color:#ff0000;font-size:9.6px">-398.44</div>
<div class="t" style="top:1296.00px;right:874.50px;font-size:9.6px">152.58</div>
<div class="t" style="top:1296.00px;right:805.50px;font-size:9.6px">865.51</div>
<div class="t" style="top:1296.00px;right:758.75px;font-size:9.6px">-</div>
<div class="t" style="top:1296.00px;right:701.25px;font-size:9.6px">53.89</div>
<div class="t" style="top:1296.00px;right:634.75px;font-size:9.6px">853.79</div>
<div class="t" style="top:1309.90px;left:101.75px">Tiền từ Hoạt Động Kinh Doanh</div>
<div class="t" style="top:1309.90px;right:924.00px;font-size:9.6px">718.94</div>
<div class="t" style="top:1309.90px;right:874.50px;font-size:9.6px">982.43</div>
<div class="t" style="top:1309.90px;right:805.50px;font-size:9.6px">1874.74</div>
<div class="t" style="top:1309.90px;right:758.75px;font-size:9.6px">1874.74</div>
<div class="t" style="top:1309.90px;right:701.25px;font-size:9.6px">170.49</div>
<div class="t" style="top:1309.90px;right:634.75px;font-size:9.6px">964.9</div>
<div class="t" style="top:1323.90px;left:101.75px">Capex</div>
<div class="t" style="top:1323.90px;right:924.00px;color:#ff0000;font-size:9.6px">-23.2</div>
<div class="t" style="top:1323.90px;right:874.50px;color:#ff0000;font-size:9.6px">-33.04</div>
<div class="t" style="top:1323.90px;right:805.50px;color:#ff0000;font-size:9.6px">-2.25</div>
<div class="t" style="top:1323.90px;right:758.75px;color:#ff0000;font-size:9.6px">-2.25</div>
<div class="t" style="top:1323.90px;right:701.25px;color:#ff0000;font-size:9.6px">-44.01</div>
<div class="t" style="top:1323.90px;right:634.75px;font-size:9.6px">1.14</div>
<div class="t" style="top:1337.90px;left:101.75px">Tiền từ Hoạt Động Đầu Tư</div>
<div class="t" style="top:1337.90px;right:924.00px;font-size:9.6px">61.11</div>
<div class="t" style="top:1337.90px;right:874.50px;color:#ff0000;font-size:9.6px">-27.72</div>
<div class="t" style="top:1337.90px;right:805.50px;color:#ff0000;font-size:9.6px">-751.3</div>
<div class="t" style="top:1337.90px;right:758.75px;color:#ff0000;font-size:9.6px">-751.3</div>
<div class="t" style="top:1337.90px;right:701.25px;color:#ff0000;font-size:9.6px">-46.26</div>
<div class="t" style="top:1337.90px;right:634.75px;color:#ff0000;font-size:9.6px">-704.53</div>
<div class="t" style="top:1351.90px;left:101.75px">Tổng Nợ Huy Động</div>
<div class="t" style="top:1351.90px;right:924.00px;font-size:9.6px">-</div>
<div class="t" style="top:1351.90px;right:874.50px;font-size:9.6px">-</div>
<div class="t" style="top:1351.90px;right:805.50px;font-size:9.6px">-</div>
<div class="t" style="top:1351.90px;right:758.75px;font-size:9.6px">-</div>
<div class="t" style="top:1351.90px;right:701.25px;font-size:9.6px">-</div>
<div class="t" style="top:1351.90px;right:634.75px;font-size:9.6px">-</div>
<div class="t" style="top:1366.65px;left:101.75px">Tổng Nợ Đã Trả</div>
<div class="t" style="top:1366.65px;right:924.00px;color:#ff0000;font-size:9.6px">-784.93</div>
<div class="t" style="top:1366.65px;right:874.50px;color:#ff0000;font-size:9.6px">-403.88</div>
<div class="t" style="top:1366.65px;right:805.50px;font-size:9.6px">-</div>
<div class="t" style="top:1366.65px;right:758.75px;font-size:9.6px">-</div>
<div class="t" style="top:1366.65px;right:701.25px;color:#ff0000;font-size:9.6px">-45.</div>
<div class="t" style="top:1366.65px;right:634.75px;font-size:9.6px">-</div>
<div class="t" style="top:1380.90px;left:101.75px">Huy Động từ Phát Hành Thêm</div>
<div class="t" style="top:1380.90px;right:924.00px;font-size:9.6px">-</div>
<div class="t" style="top:1380.90px;right:874.50px;font-size:9.6px">-</div>
<div class="t" style="top:1380.90px;right:805.50px;font-size:9.6px">-</div>
<div class="t" style="top:1380.90px;right:758.75px;font-size:9.6px">-</div>
<div class="t" style="top:1380.90px;right:701.25px;font-size:9.6px">-</div>
<div class="t" style="top:1380.90px;right:634.75px;font-size:9.6px">-</div>
<div class="t" style="top:1394.90px;left:101.75px">Cổ Tức đã Trả</div>
<div class="t" style="top:1394.90px;right:924.00px;color:#ff0000;font-size:9.6px">-492.3</div>
<div class="t" style="top:1394.90px;right:874.50px;color:#ff0000;font-size:9.6px">-551.14</div>
<div class="t" style="top:1394.90px;right:805.50px;color:#ff0000;font-size:9.6px">-199.94</div>
<div class="t" style="top:1394.90px;right:758.75px;color:#ff0000;font-size:9.6px">-199.94</div>
<div class="t" style="top:1394.90px;right:701.25px;color:#ff0000;font-size:9.6px">-75.04</div>
<div class="t" style="top:1394.90px;right:634.75px;color:#ff0000;font-size:9.6px">-5.53</div>
<div class="t" style="top:1408.90px;left:101.75px">Tiền từ Hoạt Động Tài Chính</div>
<div class="t" style="top:1408.90px;right:924.00px;color:#ff0000;font-size:9.6px">-1277.23</div>
<div class="t" style="top:1408.90px;right:874.50px;color:#ff0000;font-size:9.6px">-955.02</div>
<div class="t" style="top:1408.90px;right:805.50px;color:#ff0000;font-size:9.6px">-199.94</div>
<div class="t" style="top:1408.90px;right:758.75px;color:#ff0000;font-size:9.6px">-199.94</div>
<div class="t" style="top:1408.90px;right:701.25px;color:#ff0000;font-size:9.6px">-120.04</div>
<div class="t" style="top:1408.90px;right:634.75px;color:#ff0000;font-size:9.6px">-5.53</div>
<div class="t" style="top:1422.90px;left:101.75px">Lưu Chuyển Tiền Thuần</div>
<div class="t" style="top:1422.90px;right:924.00px;color:#ff0000;font-size:9.6px">-497.18</div>
<div class="t" style="top:1422.90px;right:874.50px;color:#ff0000;font-size:9.6px">-.31</div>
<div class="t" style="top:1422.90px;right:805.50px;font-size:9.6px">923.51</div>
<div class="t" style="top:1422.90px;right:758.75px;font-size:9.6px">923.51</div>
<div class="t" style="top:1422.90px;right:701.25px;font-size:9.6px">4.19</div>
<div class="t" style="top:1422.90px;right:634.75px;font-size:9.6px">254.83</div>
<div class="t" style="top:1436.90px;left:101.75px">Dòng Tiền Tự Do</div>
<div class="t" style="top:1436.90px;right:924.00px;font-size:9.6px">935.16</div>
<div class="t" style="top:1436.90px;right:874.50px;font-size:9.6px">906.47</div>
<div class="t" style="top:1436.90px;right:805.50px;font-size:9.6px">1711.41</div>
<div class="t" style="top:1436.90px;right:758.75px;font-size:9.6px">845.91</div>
<div class="t" style="top:1436.90px;right:701.25px;font-size:9.6px">131.25</div>
<div class="t" style="top:1436.90px;right:634.75px;font-size:9.6px">991.08</div>
<div class="t" style="top:1451.65px;left:101.75px">Lợi Ích Cổ Đông Thiếu Số</div>
<div class="t" style="top:1451.65px;right:924.00px;font-size:9.6px">-</div>
<div class="t" style="top:1451.65px;right:874.50px;font-size:9.6px">-</div>
<div class="t" style="top:1451.65px;right:805.50px;font-size:9.6px">-</div>
<div class="t" style="top:1451.65px;right:758.75px;font-size:9.6px">-</div>
<div class="t" style="top:1465.90px;left:101.75px">Vốn Hóa</div>
<div class="t" style="top:1465.90px;right:924.00px;font-size:9.6px">6500.</div>
<div class="t" style="top:1465.90px;right:874.50px;font-size:9.6px">7000.</div>
<div class="t" style="top:1465.90px;right:805.50px;font-size:9.6px">6450.</div>
<div class="t" style="top:1465.90px;right:758.75px;font-size:9.6px">5350.</div>
<div class="t" style="top:1479.90px;left:101.75px">TEV</div>
<div class="t" style="top:1479.90px;right:924.00px;font-size:9.6px">6865.42</div>
<div class="t" style="top:1479.90px;right:874.50px;font-size:9.6px">6966.85</div>
<div class="t" style="top:1479.90px;right:805.50px;font-size:9.6px">4738.34</div>
<div class="t" style="top:1479.90px;right:758.75px;font-size:9.6px">3638.34</div>
<div class="r" style="left:99.50px;top:1538.65px;width:1026.00px;height:1.30px;background:#000;"></div>
<div class="r" style="left:598.00px;top:147.10px;width:527.00px;height:14.50px;background:#535353;"></div>
<div class="t b" style="top:147.55px;left:600.50px;color:#fff;font-size:9.0px;transform:scaleY(1.1);letter-spacing:0.060px">GIÁ/KHỐI LƯỢNG</div>
<div class="r" style="left:598.00px;top:425.00px;width:527.00px;height:13.90px;background:#535353;"></div>
<div class="t b" style="top:425.15px;left:600.50px;color:#fff;font-size:9.0px;transform:scaleY(1.1);letter-spacing:-0.073px">HỆ SỐ ĐỊNH GIÁ</div>
<div class="r" style="left:598.00px;top:962.00px;width:527.00px;height:13.60px;background:#535353;"></div>
<div class="t b" style="top:962.00px;left:600.50px;color:#fff;font-size:9.0px;transform:scaleY(1.1);letter-spacing:0.021px">TÓM TẮT KẾT QUẢ HOẠT ĐỘNG KINH DOANH</div>
<div class="t i" style="top:975.90px;left:600.50px;color:#595959;font-size:9.75px">tỷ VND, trừ dữ liệu trên mỗi cổ phiếu</div>
<div class="t b" style="top:975.90px;left:685.50px;width:300px;text-align:center">Năm Tài Chính</div>
<div class="t b" style="top:975.90px;left:822.50px;width:300px;text-align:center">LTM</div>
<div class="t b" style="top:975.90px;left:914.25px;width:300px;text-align:center">Quý</div>
<div class="t" style="top:989.90px;right:426.00px;font-size:9.6px">2023</div>
<div class="t" style="top:989.90px;right:346.50px;font-size:9.6px">2024</div>
<div class="t" style="top:989.90px;right:285.50px;font-size:9.6px">2025</div>
<div class="t" style="top:989.90px;right:224.00px;font-size:9.6px">2026</div>
<div class="t" style="top:989.90px;right:162.75px;font-size:9.6px">Q4 2024</div>
<div class="t" style="top:989.90px;right:101.75px;font-size:9.6px">Q4 2025</div>
<div class="r" style="left:750.00px;top:988.90px;width:375.00px;height:1.40px;background:#3a3a3a;"></div>
<div class="r" style="left:750.00px;top:1002.75px;width:375.00px;height:1.70px;background:#3a3a3a;"></div>
<div class="t" style="top:1003.90px;left:600.50px">Tổng Doanh Thu</div>
<div class="t" style="top:1003.90px;right:426.00px;font-size:9.6px">11442.7</div>
<div class="t" style="top:1003.90px;right:346.50px;font-size:9.6px">11036.28</div>
<div class="t" style="top:1003.90px;right:285.50px;font-size:9.6px">9730.82</div>
<div class="t" style="top:1003.90px;right:224.00px;font-size:9.6px">9730.82</div>
<div class="t" style="top:1003.90px;right:162.75px;font-size:9.6px">2430.78</div>
<div class="t" style="top:1003.90px;right:101.75px;font-size:9.6px">2061.09</div>
<div class="t i" style="top:1018.65px;left:615.50px">% Tăng Trưởng</div>
<div class="t i" style="top:1018.65px;left:752.50px">N/A</div>
<div class="t i" style="top:1018.65px;right:350.80px;color:#ff0000">-4%</div>
<div class="t i" style="top:1018.65px;right:289.80px;color:#ff0000">-12%</div>
<div class="t" style="top:1018.65px;left:944.00px">-</div>
<div class="t" style="top:1018.65px;left:1005.30px">-</div>
<div class="t i" style="top:1018.65px;right:106.05px;color:#ff0000">-15%</div>
<div class="t" style="top:1032.90px;left:600.50px">Lợi Nhuận Gộp</div>
<div class="t" style="top:1032.90px;right:426.00px;font-size:9.6px">643.93</div>
<div class="t" style="top:1032.90px;right:346.50px;font-size:9.6px">407.19</div>
<div class="t" style="top:1032.90px;right:285.50px;font-size:9.6px">547.7</div>
<div class="t" style="top:1032.90px;right:224.00px;font-size:9.6px">547.7</div>
<div class="t" style="top:1032.90px;right:162.75px;font-size:9.6px">38.9</div>
<div class="t" style="top:1032.90px;right:101.75px;font-size:9.6px">45.56</div>
<div class="t i" style="top:1046.90px;left:615.50px">% Doanh Thu</div>
<div class="t i" style="top:1046.90px;right:428.00px">6%</div>
<div class="t i" style="top:1046.90px;right:348.50px">4%</div>
<div class="t i" style="top:1046.90px;right:287.50px">6%</div>
<div class="t i" style="top:1046.90px;right:226.00px">6%</div>
<div class="t i" style="top:1046.90px;right:164.75px">2%</div>
<div class="t i" style="top:1046.90px;right:103.75px">2%</div>
<div class="t" style="top:1060.90px;left:600.50px">Chi Phí Bán Hàng và Quản Lý DN</div>
<div class="t" style="top:1060.90px;right:426.00px;font-size:9.6px">-</div>
<div class="t" style="top:1060.90px;right:346.50px;font-size:9.6px">-</div>
<div class="t" style="top:1060.90px;right:285.50px;font-size:9.6px">-</div>
<div class="t" style="top:1060.90px;right:224.00px;font-size:9.6px">89.61</div>
<div class="t" style="top:1060.90px;right:162.75px;font-size:9.6px">39.35</div>
<div class="t" style="top:1060.90px;right:101.75px;font-size:9.6px">25.65</div>
<div class="t" style="top:1074.90px;left:600.50px">EBIT</div>
<div class="t" style="top:1074.90px;right:426.00px;font-size:9.6px">536.26</div>
<div class="t" style="top:1074.90px;right:346.50px;font-size:9.6px">300.22</div>
<div class="t" style="top:1074.90px;right:285.50px;font-size:9.6px">458.09</div>
<div class="t" style="top:1074.90px;right:224.00px;font-size:9.6px">458.09</div>
<div class="t" style="top:1074.90px;right:162.75px;color:#ff0000;font-size:9.6px">-.45</div>
<div class="t" style="top:1074.90px;right:101.75px;font-size:9.6px">19.91</div>
<div class="t i" style="top:1088.90px;left:615.50px">% Tăng Trưởng</div>
<div class="t i" style="top:1088.90px;left:752.50px">N/A</div>
<div class="t i" style="top:1088.90px;right:350.80px;color:#ff0000">-44%</div>
<div class="t i" style="top:1088.90px;right:287.50px">53%</div>
<div class="t" style="top:1088.90px;left:944.00px">-</div>
<div class="t" style="top:1088.90px;left:1005.30px">-</div>
<div class="t i" style="top:1088.90px;right:106.05px;color:#ff0000">-4,517%</div>
<div class="t i" style="top:1103.65px;left:615.50px">% Doanh Thu</div>
<div class="t i" style="top:1103.65px;right:428.00px">5%</div>
<div class="t i" style="top:1103.65px;right:348.50px">3%</div>
<div class="t i" style="top:1103.65px;right:287.50px">5%</div>
<div class="t i" style="top:1103.65px;right:226.00px">5%</div>
<div class="t i" style="top:1103.65px;right:167.05px;color:#ff0000">-0%</div>
<div class="t i" style="top:1103.65px;right:103.75px">1%</div>
<div class="t" style="top:1117.90px;left:600.50px">Chi Phí Tài Chính</div>
<div class="t" style="top:1117.90px;right:426.00px;font-size:9.6px">52.18</div>
<div class="t" style="top:1117.90px;right:346.50px;font-size:9.6px">11.54</div>
<div class="t" style="top:1117.90px;right:285.50px;font-size:9.6px">2.86</div>
<div class="t" style="top:1117.90px;right:224.00px;font-size:9.6px">2.86</div>
<div class="t" style="top:1117.90px;right:162.75px;font-size:9.6px">.01</div>
<div class="t" style="top:1117.90px;right:101.75px;font-size:9.6px">-</div>
<div class="t" style="top:1131.90px;left:600.50px">Lợi Nhuận Ròng</div>
<div class="t" style="top:1131.90px;right:426.00px;font-size:9.6px">441.47</div>
<div class="t" style="top:1131.90px;right:346.50px;font-size:9.6px">258.94</div>
<div class="t" style="top:1131.90px;right:285.50px;font-size:9.6px">421.44</div>
<div class="t" style="top:1131.90px;right:224.00px;font-size:9.6px">421.44</div>
<div class="t" style="top:1131.90px;right:162.75px;color:#ff0000;font-size:9.6px">-.25</div>
<div class="t" style="top:1131.90px;right:101.75px;font-size:9.6px">28.7</div>
<div class="t i" style="top:1145.90px;left:615.50px">% Tăng Trưởng</div>
<div class="t i" style="top:1145.90px;left:752.50px">N/A</div>
<div class="t i" style="top:1145.90px;right:350.80px;color:#ff0000">-41%</div>
<div class="t i" style="top:1145.90px;right:287.50px">63%</div>
<div class="t" style="top:1145.90px;left:944.00px">-</div>
<div class="t" style="top:1145.90px;left:1005.30px">-</div>
<div class="t i" style="top:1145.90px;right:106.05px;color:#ff0000">-11,768%</div>
<div class="t i" style="top:1159.90px;left:615.50px">% Doanh Thu</div>
<div class="t i" style="top:1159.90px;right:428.00px">4%</div>
<div class="t i" style="top:1159.90px;right:348.50px">2%</div>
<div class="t i" style="top:1159.90px;right:287.50px">4%</div>
<div class="t i" style="top:1159.90px;right:226.00px">4%</div>
<div class="t i" style="top:1159.90px;right:167.05px;color:#ff0000">-0%</div>
<div class="t i" style="top:1159.90px;right:103.75px">1%</div>
<div class="t" style="top:1173.90px;left:600.50px">EPS Pha Loãng</div>
<div class="t" style="top:1173.90px;right:426.00px;font-size:9.6px">882.94</div>
<div class="t" style="top:1173.90px;right:346.50px;font-size:9.6px">517.88</div>
<div class="t" style="top:1173.90px;right:285.50px;font-size:9.6px">842.88</div>
<div class="t" style="top:1173.90px;right:224.00px;font-size:9.6px">842.88</div>
<div class="t" style="top:1173.90px;right:162.75px;color:#ff0000;font-size:9.6px">-.49</div>
<div class="t" style="top:1173.90px;right:101.75px;font-size:9.6px">57.39</div>
<div class="t" style="top:1188.65px;left:600.50px">SL Cổ Phiếu Lưu Hành (thực tế)</div>
<div class="t" style="top:1188.65px;right:426.00px;font-size:9.6px">.5</div>
<div class="t" style="top:1188.65px;right:346.50px;font-size:9.6px">.5</div>
<div class="t" style="top:1188.65px;right:285.50px;font-size:9.6px">.5</div>
<div class="t" style="top:1188.65px;right:224.00px;font-size:9.6px">.5</div>
<div class="t" style="top:1188.65px;right:162.75px;font-size:9.6px">.5</div>
<div class="t" style="top:1188.65px;right:101.75px;font-size:9.6px">.5</div>
<div class="t" style="top:1202.90px;left:600.50px">EBITDA</div>
<div class="t" style="top:1202.90px;right:426.00px;font-size:9.6px">1444.84</div>
<div class="t" style="top:1202.90px;right:346.50px;font-size:9.6px">831.1</div>
<div class="t" style="top:1202.90px;right:285.50px;font-size:9.6px">953.31</div>
<div class="t" style="top:1202.90px;right:224.00px;font-size:9.6px">953.31</div>
<div class="t" style="top:1202.90px;right:162.75px;font-size:9.6px">121.5</div>
<div class="t" style="top:1202.90px;right:101.75px;font-size:9.6px">150.8</div>
<div class="r" style="left:598.00px;top:1215.65px;width:152.00px;height:1.30px;background:#000;"></div>
<div class="r" style="left:598.00px;top:1225.00px;width:527.00px;height:13.80px;background:#535353;"></div>
<div class="t b" style="top:1225.10px;left:600.50px;color:#fff;font-size:9.0px;transform:scaleY(1.1);letter-spacing:-0.098px">TÓM TẮT CÁC CHỈ SỐ TÀI CHÍNH</div>
<div class="t b" style="top:1239.15px;left:696.25px;width:300px;text-align:center">Năm Tài Chính</div>
<div class="t b" style="top:1239.15px;left:822.50px;width:300px;text-align:center">LTM</div>
<div class="t b" style="top:1239.15px;left:914.25px;width:300px;text-align:center">Quý</div>
<div class="t" style="top:1253.15px;right:426.00px;font-size:9.6px">2023</div>
<div class="t" style="top:1253.15px;right:346.50px;font-size:9.6px">2024</div>
<div class="t" style="top:1253.15px;right:285.50px;font-size:9.6px">2025</div>
<div class="t" style="top:1253.15px;right:224.00px;font-size:9.6px">2026</div>
<div class="t" style="top:1253.15px;right:162.75px;font-size:9.6px">Q4 2024</div>
<div class="t" style="top:1253.15px;right:101.75px;font-size:9.6px">Q4 2025</div>
<div class="r" style="left:750.00px;top:1252.30px;width:375.00px;height:1.40px;background:#3a3a3a;"></div>
<div class="r" style="left:750.00px;top:1266.05px;width:375.00px;height:1.70px;background:#3a3a3a;"></div>
<div class="t b u" style="top:1267.15px;left:600.50px">Lợi Nhuận</div>
<div class="t" style="top:1281.90px;left:600.50px">ROA</div>
<div class="t" style="top:1281.90px;right:426.00px;font-size:9.6px">5.6%</div>
<div class="t" style="top:1281.90px;right:346.50px;font-size:9.6px">3.5%</div>
<div class="t" style="top:1281.90px;right:285.50px;font-size:9.6px">5.9%</div>
<div class="t" style="top:1281.90px;right:224.00px;font-size:9.6px">5.7%</div>
<div class="t" style="top:1281.90px;right:162.75px;color:#ff0000;font-size:9.6px">(0.0%)</div>
<div class="t" style="top:1281.90px;right:101.75px;font-size:9.6px">0.4%</div>
<div class="t" style="top:1296.00px;left:600.50px">ROIC</div>
<div class="t" style="top:1296.00px;right:426.00px;font-size:9.6px">4.6%</div>
<div class="t" style="top:1296.00px;right:346.50px;font-size:9.6px">2.9%</div>
<div class="t" style="top:1296.00px;right:285.50px;font-size:9.6px">4.7%</div>
<div class="t" style="top:1296.00px;right:224.00px;font-size:9.6px">4.7%</div>
<div class="t" style="top:1296.00px;right:162.75px;color:#ff0000;font-size:9.6px">(0.0%)</div>
<div class="t" style="top:1296.00px;right:101.75px;font-size:9.6px">0.2%</div>
<div class="t" style="top:1309.90px;left:600.50px">ROE</div>
<div class="t" style="top:1309.90px;right:426.00px;font-size:9.6px">7.3%</div>
<div class="t" style="top:1309.90px;right:346.50px;font-size:9.6px">4.5%</div>
<div class="t" style="top:1309.90px;right:285.50px;font-size:9.6px">7.0%</div>
<div class="t" style="top:1309.90px;right:224.00px;font-size:9.6px">7.0%</div>
<div class="t" style="top:1309.90px;right:162.75px;color:#ff0000;font-size:9.6px">(0.0%)</div>
<div class="t" style="top:1309.90px;right:101.75px;font-size:9.6px">0.5%</div>
<div class="t b u" style="top:1323.90px;left:600.50px">Biên Lợi Nhuận</div>
<div class="t" style="top:1337.90px;left:600.50px">Biên Gộp</div>
<div class="t" style="top:1337.90px;right:426.00px;font-size:9.6px">5.6%</div>
<div class="t" style="top:1337.90px;right:346.50px;font-size:9.6px">3.7%</div>
<div class="t" style="top:1337.90px;right:285.50px;font-size:9.6px">5.6%</div>
<div class="t" style="top:1337.90px;right:224.00px;font-size:9.6px">5.6%</div>
<div class="t" style="top:1337.90px;right:162.75px;font-size:9.6px">1.6%</div>
<div class="t" style="top:1337.90px;right:101.75px;font-size:9.6px">2.2%</div>
<div class="t" style="top:1351.90px;left:600.50px">Biên EBITDA</div>
<div class="t" style="top:1351.90px;right:426.00px;font-size:9.6px">12.6%</div>
<div class="t" style="top:1351.90px;right:346.50px;font-size:9.6px">7.5%</div>
<div class="t" style="top:1351.90px;right:285.50px;font-size:9.6px">9.8%</div>
<div class="t" style="top:1351.90px;right:224.00px;font-size:9.6px">9.8%</div>
<div class="t" style="top:1351.90px;right:162.75px;font-size:9.6px">5.0%</div>
<div class="t" style="top:1351.90px;right:101.75px;font-size:9.6px">7.3%</div>
<div class="t" style="top:1366.65px;left:600.50px">Biên Ròng</div>
<div class="t" style="top:1366.65px;right:426.00px;font-size:9.6px">3.9%</div>
<div class="t" style="top:1366.65px;right:346.50px;font-size:9.6px">2.3%</div>
<div class="t" style="top:1366.65px;right:285.50px;font-size:9.6px">4.3%</div>
<div class="t" style="top:1366.65px;right:224.00px;font-size:9.6px">4.3%</div>
<div class="t" style="top:1366.65px;right:162.75px;color:#ff0000;font-size:9.6px">(0.0%)</div>
<div class="t" style="top:1366.65px;right:101.75px;font-size:9.6px">1.4%</div>
<div class="t b u" style="top:1380.90px;left:600.50px">Thanh Khoản Ngắn Hạn</div>
<div class="t" style="top:1394.90px;left:600.50px">Tỷ Lệ Thanh Toán HH</div>
<div class="t" style="top:1394.90px;right:426.00px;font-size:9.6px">2.1x</div>
<div class="t" style="top:1394.90px;right:346.50px;font-size:9.6px">2.8x</div>
<div class="t" style="top:1394.90px;right:285.50px;font-size:9.6px">3.4x</div>
<div class="t" style="top:1394.90px;right:224.00px;font-size:9.6px">3.4x</div>
<div class="t" style="top:1394.90px;right:162.75px;font-size:9.6px">6.2x</div>
<div class="t" style="top:1394.90px;right:101.75px;font-size:9.6px">3.4x</div>
<div class="t" style="top:1408.90px;left:600.50px">Tỷ Lệ Thanh Toán Nhanh</div>
<div class="t" style="top:1408.90px;right:426.00px;font-size:9.6px">1.6x</div>
<div class="t" style="top:1408.90px;right:346.50px;font-size:9.6px">2.1x</div>
<div class="t" style="top:1408.90px;right:285.50px;font-size:9.6px">2.6x</div>
<div class="t" style="top:1408.90px;right:224.00px;font-size:9.6px">2.6x</div>
<div class="t" style="top:1408.90px;right:162.75px;font-size:9.6px">4.6x</div>
<div class="t" style="top:1408.90px;right:101.75px;font-size:9.6px">2.6x</div>
<div class="t" style="top:1422.90px;left:600.50px">Số Ngày Bán Hàng</div>
<div class="t" style="top:1422.90px;right:426.00px;font-size:9.6px">92.2</div>
<div class="t" style="top:1422.90px;right:346.50px;font-size:9.6px">84.1</div>
<div class="t" style="top:1422.90px;right:285.50px;font-size:9.6px">62.8</div>
<div class="t" style="top:1422.90px;right:224.00px;font-size:9.6px">62.8</div>
<div class="t" style="top:1422.90px;right:162.75px;font-size:9.6px">69.5</div>
<div class="t" style="top:1422.90px;right:101.75px;font-size:9.6px">73.9</div>
<div class="t" style="top:1436.90px;left:600.50px">Số Ngày Lưu Kho</div>
<div class="t" style="top:1436.90px;right:426.00px;font-size:9.6px">28.1</div>
<div class="t" style="top:1436.90px;right:346.50px;font-size:9.6px">27.7</div>
<div class="t" style="top:1436.90px;right:285.50px;font-size:9.6px">29.5</div>
<div class="t" style="top:1436.90px;right:224.00px;font-size:9.6px">29.5</div>
<div class="t" style="top:1436.90px;right:162.75px;font-size:9.6px">25.0</div>
<div class="t" style="top:1436.90px;right:101.75px;font-size:9.6px">33.5</div>
<div class="t b u" style="top:1451.65px;left:600.50px">Khả Năng Thanh Toán Dài Hạn</div>
<div class="t" style="top:1465.90px;left:600.50px">Tổng Nợ / Vốn Chủ</div>
<div class="t" style="top:1465.90px;right:426.00px;font-size:9.6px">6.7%</div>
<div class="t" style="top:1465.90px;right:346.50px;font-size:9.6px">0.0%</div>
<div class="t" style="top:1465.90px;right:285.50px;font-size:9.6px">0.0%</div>
<div class="t" style="top:1465.90px;right:224.00px;font-size:9.6px">0.0%</div>
<div class="t" style="top:1465.90px;right:162.75px;font-size:9.6px">0.0%</div>
<div class="t" style="top:1465.90px;right:101.75px;font-size:9.6px">0.0%</div>
<div class="t" style="top:1479.90px;left:600.50px">Tổng Nợ / Tài Sản</div>
<div class="t" style="top:1479.90px;right:426.00px;font-size:9.6px">5.2%</div>
<div class="t" style="top:1479.90px;right:346.50px;font-size:9.6px">0.0%</div>
<div class="t" style="top:1479.90px;right:285.50px;font-size:9.6px">0.0%</div>
<div class="t" style="top:1479.90px;right:224.00px;font-size:9.6px">0.0%</div>
<div class="t" style="top:1479.90px;right:162.75px;font-size:9.6px">0.0%</div>
<div class="t" style="top:1479.90px;right:101.75px;font-size:9.6px">0.0%</div>
<div class="t" style="top:1493.90px;left:600.50px">EBITDA / Lãi Vay</div>
<div class="t" style="top:1493.90px;right:426.00px;font-size:9.6px">27.7x</div>
<div class="t" style="top:1493.90px;right:346.50px;font-size:9.6px">72.0x</div>
<div class="t" style="top:1493.90px;right:285.50px;font-size:9.6px">333.6x</div>
<div class="t" style="top:1493.90px;right:224.00px;font-size:9.6px">333.6x</div>
<div class="t" style="top:1493.90px;right:162.75px;font-size:9.6px">12318.6x</div>
<div class="t" style="top:1493.90px;right:101.75px;font-size:9.6px">N/A</div>
<div class="t" style="top:1507.90px;left:600.50px">(EBITDA-CAPEX) / Lãi Vay</div>
<div class="t" style="top:1507.90px;right:426.00px;font-size:9.6px">27.2x</div>
<div class="t" style="top:1507.90px;right:346.50px;font-size:9.6px">69.1x</div>
<div class="t" style="top:1507.90px;right:285.50px;font-size:9.6px">332.8x</div>
<div class="t" style="top:1507.90px;right:224.00px;font-size:9.6px">332.8x</div>
<div class="t" style="top:1507.90px;right:162.75px;font-size:9.6px">7856.2x</div>
<div class="t" style="top:1507.90px;right:101.75px;font-size:9.6px">N/A</div>
<div class="t" style="top:1521.90px;left:600.50px">Tổng Nợ / EBITDA</div>
<div class="t" style="top:1521.90px;right:426.00px;font-size:9.6px">0.3x</div>
<div class="t" style="top:1521.90px;right:346.50px;font-size:9.6px">0.0x</div>
<div class="t" style="top:1521.90px;right:285.50px;font-size:9.6px">0.0x</div>
<div class="t" style="top:1521.90px;right:224.00px;font-size:9.6px">0.0x</div>
<div class="t" style="top:1521.90px;right:162.75px;font-size:9.6px">0.0x</div>
<div class="t" style="top:1521.90px;right:101.75px;font-size:9.6px">0.0x</div>
<div class="r" style="left:600.00px;top:166.00px;width:519.00px;height:251.30px;border:1.0px solid #8c8c8c;background:transparent;box-sizing:content-box"></div>
<div class="r" style="left:598.70px;top:447.40px;width:523.40px;height:175.00px;border:1.2px solid #7f7f7f;background:transparent;box-sizing:content-box"></div>
<div class="r" style="left:598.65px;top:633.25px;width:523.10px;height:314.10px;border:1.3px solid #262626;background:transparent;box-sizing:content-box"></div>
<div class="r" style="left:97.50px;top:882.60px;width:489.30px;height:72.90px;border:1.2px solid #7f7f7f;background:#fff;box-sizing:content-box"></div>
<svg width="1224" height="1584" viewBox="0 0 1224 1584"><line x1="661.0" y1="179.7" x2="1071.5" y2="179.7" stroke="#d9d9d9" stroke-width="1"/>
<line x1="661.0" y1="204.3" x2="1071.5" y2="204.3" stroke="#d9d9d9" stroke-width="1"/>
<line x1="661.0" y1="229.0" x2="1071.5" y2="229.0" stroke="#d9d9d9" stroke-width="1"/>
<line x1="661.0" y1="253.7" x2="1071.5" y2="253.7" stroke="#d9d9d9" stroke-width="1"/>
<line x1="661.0" y1="278.4" x2="1071.5" y2="278.4" stroke="#d9d9d9" stroke-width="1"/>
<line x1="661.0" y1="303.3" x2="1071.5" y2="303.3" stroke="#d9d9d9" stroke-width="1"/>
<line x1="661.0" y1="328.2" x2="1071.5" y2="328.2" stroke="#d9d9d9" stroke-width="1"/>
<text x="651" y="182.89999999999998" text-anchor="end" font-size="9.6" fill="#595959">1,200,000</text>
<text x="651" y="207.5" text-anchor="end" font-size="9.6" fill="#595959">1,000,000</text>
<text x="651" y="232.2" text-anchor="end" font-size="9.6" fill="#595959">800,000</text>
<text x="651" y="256.9" text-anchor="end" font-size="9.6" fill="#595959">600,000</text>
<text x="651" y="281.59999999999997" text-anchor="end" font-size="9.6" fill="#595959">400,000</text>
<text x="651" y="306.5" text-anchor="end" font-size="9.6" fill="#595959">200,000</text>
<text x="651" y="331.4" text-anchor="end" font-size="9.6" fill="#595959">0</text>
<line x1="1072.1" y1="179.2" x2="1072.1" y2="328.7" stroke="#bfbfbf" stroke-width="1.3"/>
<line x1="1072.1" y1="179.7" x2="1075.8" y2="179.7" stroke="#bfbfbf" stroke-width="1.2"/>
<text x="1083.6" y="183.39999999999998" font-size="10.5" fill="#000">25000</text>
<line x1="1072.1" y1="209.4" x2="1075.8" y2="209.4" stroke="#bfbfbf" stroke-width="1.2"/>
<text x="1083.6" y="213.1" font-size="10.5" fill="#000">20000</text>
<line x1="1072.1" y1="239.1" x2="1075.8" y2="239.1" stroke="#bfbfbf" stroke-width="1.2"/>
<text x="1083.6" y="242.79999999999998" font-size="10.5" fill="#000">15000</text>
<line x1="1072.1" y1="268.8" x2="1075.8" y2="268.8" stroke="#bfbfbf" stroke-width="1.2"/>
<text x="1083.6" y="272.5" font-size="10.5" fill="#000">10000</text>
<line x1="1072.1" y1="298.5" x2="1075.8" y2="298.5" stroke="#bfbfbf" stroke-width="1.2"/>
<text x="1083.6" y="302.2" font-size="10.5" fill="#000">5000</text>
<line x1="1072.1" y1="328.2" x2="1075.8" y2="328.2" stroke="#bfbfbf" stroke-width="1.2"/>
<text x="1083.6" y="331.9" font-size="10.5" fill="#000">0</text>
<path d="M661.0 328.2v-0.9M661.5 328.2v-2.7M661.9 328.2v-1.2M662.4 328.2v-0.5M662.8 328.2v-1.9M663.3 328.2v-0.4M663.7 328.2v-3.0M664.2 328.2v-0.4M664.6 328.2v-3.8M665.1 328.2v-1.8M665.5 328.2v-1.4M666.0 328.2v-0.5M666.4 328.2v-0.9M666.9 328.2v-1.1M667.3 328.2v-0.9M667.8 328.2v-0.7M668.2 328.2v-2.1M668.7 328.2v-1.3M669.1 328.2v-0.4M669.6 328.2v-0.6M670.0 328.2v-0.6M670.5 328.2v-1.6M670.9 328.2v-1.8M671.4 328.2v-2.0M671.8 328.2v-0.2M672.3 328.2v-1.4M672.7 328.2v-0.4M673.2 328.2v-1.3M673.6 328.2v-0.2M674.1 328.2v-0.3M674.5 328.2v-0.6M675.0 328.2v-0.2M675.4 328.2v-0.2M675.9 328.2v-0.3M676.3 328.2v-1.4M676.8 328.2v-0.3M677.2 328.2v-1.5M677.7 328.2v-0.2M678.1 328.2v-0.3M678.6 328.2v-0.4M679.0 328.2v-0.2M679.5 328.2v-0.3M679.9 328.2v-0.5M680.4 328.2v-1.7M680.8 328.2v-0.8M681.3 328.2v-0.2M681.7 328.2v-1.3M682.2 328.2v-1.1M682.6 328.2v-0.2M683.1 328.2v-1.4M683.5 328.2v-0.5M684.0 328.2v-1.6M684.4 328.2v-0.3M684.9 328.2v-0.8M685.3 328.2v-1.0M685.8 328.2v-0.7M686.2 328.2v-0.8M686.7 328.2v-0.2M687.1 328.2v-0.5M687.6 328.2v-0.4M688.0 328.2v-0.2M688.5 328.2v-1.3M688.9 328.2v-0.8M689.4 328.2v-0.7M689.8 328.2v-0.1M690.3 328.2v-0.9M690.7 328.2v-0.1M691.2 328.2v-0.5M691.6 328.2v-0.3M692.1 328.2v-0.1M692.5 328.2v-0.9M693.0 328.2v-0.9M693.4 328.2v-1.0M693.9 328.2v-0.3M694.3 328.2v-1.1M694.8 328.2v-0.4M695.2 328.2v-1.0M695.7 328.2v-0.6M696.1 328.2v-0.6M696.6 328.2v-0.1M697.0 328.2v-1.2M697.5 328.2v-0.8M697.9 328.2v-0.8M698.4 328.2v-0.4M698.8 328.2v-0.1M699.3 328.2v-0.1M699.7 328.2v-0.4M700.2 328.2v-0.4M700.6 328.2v-1.1M701.1 328.2v-0.3M701.5 328.2v-0.2M702.0 328.2v-0.8M702.4 328.2v-1.3M702.9 328.2v-0.2M703.3 328.2v-1.2M703.8 328.2v-1.4M704.2 328.2v-0.8M704.7 328.2v-0.7M705.1 328.2v-1.5M705.6 328.2v-1.8M706.0 328.2v-0.6M706.5 328.2v-0.6M706.9 328.2v-0.8M707.4 328.2v-2.1M707.8 328.2v-0.2M708.3 328.2v-0.2M708.7 328.2v-1.0M709.2 328.2v-0.2M709.6 328.2v-0.2M710.1 328.2v-0.4M710.5 328.2v-1.3M711.0 328.2v-1.4M711.4 328.2v-2.0M711.9 328.2v-1.6M712.3 328.2v-0.4M712.8 328.2v-1.7M713.2 328.2v-0.7M713.7 328.2v-1.1M714.1 328.2v-1.9M714.6 328.2v-2.1M715.0 328.2v-0.3M715.5 328.2v-1.8M715.9 328.2v-1.5M716.4 328.2v-0.8M716.8 328.2v-2.5M717.3 328.2v-2.8M717.7 328.2v-1.6M718.2 328.2v-2.3M718.6 328.2v-1.9M719.1 328.2v-3.1M719.5 328.2v-1.3M720.0 328.2v-0.7M720.4 328.2v-2.5M720.9 328.2v-1.0M721.3 328.2v-2.2M721.8 328.2v-0.3M722.2 328.2v-0.3M722.7 328.2v-0.4M723.1 328.2v-0.4M723.6 328.2v-2.0M724.0 328.2v-1.9M724.5 328.2v-1.2M724.9 328.2v-0.3M725.4 328.2v-0.7M725.8 328.2v-1.8M726.3 328.2v-2.7M726.7 328.2v-0.7M727.2 328.2v-2.7M727.6 328.2v-0.5M728.1 328.2v-3.4M728.5 328.2v-1.6M729.0 328.2v-1.3M729.4 328.2v-0.3M729.9 328.2v-1.4M730.3 328.2v-2.5M730.8 328.2v-1.2M731.2 328.2v-0.3M731.7 328.2v-1.0M732.1 328.2v-3.0M732.6 328.2v-0.4M733.0 328.2v-2.4M733.5 328.2v-1.1M733.9 328.2v-1.5M734.4 328.2v-0.3M734.8 328.2v-0.2M735.3 328.2v-1.7M735.7 328.2v-1.4M736.2 328.2v-0.3M736.6 328.2v-0.5M737.1 328.2v-0.8M737.5 328.2v-0.8M738.0 328.2v-0.3M738.4 328.2v-1.3M738.9 328.2v-1.9M739.3 328.2v-1.9M739.8 328.2v-1.7M740.2 328.2v-0.5M740.7 328.2v-0.3M741.1 328.2v-1.8M741.6 328.2v-1.3M742.0 328.2v-1.6M742.5 328.2v-1.4M742.9 328.2v-1.1M743.4 328.2v-1.1M743.8 328.2v-1.8M744.3 328.2v-1.2M744.7 328.2v-1.0M745.2 328.2v-0.2M745.6 328.2v-0.7M746.1 328.2v-0.2M746.5 328.2v-1.4M747.0 328.2v-1.6M747.4 328.2v-1.7M747.9 328.2v-1.2M748.3 328.2v-0.7M748.8 328.2v-0.9M749.2 328.2v-1.4M749.7 328.2v-1.2M750.1 328.2v-0.3M750.6 328.2v-0.2M751.0 328.2v-1.4M751.5 328.2v-1.5M751.9 328.2v-0.5M752.4 328.2v-0.7M752.8 328.2v-1.4M753.3 328.2v-1.3M753.7 328.2v-1.4M754.2 328.2v-1.7M754.6 328.2v-1.2M755.1 328.2v-1.3M755.5 328.2v-1.2M756.0 328.2v-0.7M756.4 328.2v-1.0M756.9 328.2v-0.3M757.3 328.2v-1.1M757.8 328.2v-0.9M758.2 328.2v-0.6M758.7 328.2v-1.1M759.1 328.2v-1.4M759.6 328.2v-0.2M760.0 328.2v-1.4M760.5 328.2v-0.2M760.9 328.2v-0.2M761.4 328.2v-1.1M761.8 328.2v-2.7M762.3 328.2v-2.9M762.7 328.2v-2.3M763.2 328.2v-2.2M763.6 328.2v-0.4M764.1 328.2v-0.5M764.5 328.2v-1.8M765.0 328.2v-1.2M765.4 328.2v-1.9M765.9 328.2v-0.8M766.3 328.2v-1.9M766.8 328.2v-0.9M767.2 328.2v-0.4M767.7 328.2v-1.3M768.1 328.2v-3.3M768.6 328.2v-4.8M769.0 328.2v-1.6M769.5 328.2v-5.3M769.9 328.2v-5.2M770.4 328.2v-2.0M770.8 328.2v-4.8M771.3 328.2v-0.7M771.7 328.2v-2.4M772.2 328.2v-3.1M772.6 328.2v-4.5M773.1 328.2v-1.5M773.5 328.2v-2.7M774.0 328.2v-3.8M774.4 328.2v-9.3M774.9 328.2v-1.7M775.3 328.2v-7.5M775.8 328.2v-2.7M776.2 328.2v-5.4M776.7 328.2v-7.5M777.1 328.2v-2.3M777.6 328.2v-16.9M778.0 328.2v-1.8M778.5 328.2v-7.1M778.9 328.2v-2.6M779.4 328.2v-2.6M779.8 328.2v-12.7M780.3 328.2v-8.2M780.7 328.2v-4.8M781.2 328.2v-25.8M781.6 328.2v-25.1M782.1 328.2v-23.8M782.5 328.2v-6.3M783.0 328.2v-9.3M783.4 328.2v-35.3M783.9 328.2v-21.9M784.3 328.2v-9.7M784.8 328.2v-3.0M785.2 328.2v-2.7M785.7 328.2v-9.5M786.1 328.2v-5.1M786.6 328.2v-2.3M787.0 328.2v-2.3M787.5 328.2v-13.3M787.9 328.2v-5.4M788.4 328.2v-5.3M788.8 328.2v-8.9M789.3 328.2v-17.9M789.7 328.2v-5.8M790.2 328.2v-3.7M790.6 328.2v-15.4M791.1 328.2v-2.7M791.5 328.2v-3.8M792.0 328.2v-3.9M792.4 328.2v-1.9M792.9 328.2v-9.7M793.3 328.2v-10.1M793.8 328.2v-1.7M794.2 328.2v-10.3M794.7 328.2v-4.6M795.1 328.2v-5.1M795.6 328.2v-5.9M796.0 328.2v-1.0M796.5 328.2v-7.3M796.9 328.2v-6.4M797.4 328.2v-1.0M797.8 328.2v-1.2M798.3 328.2v-5.7M798.7 328.2v-7.4M799.2 328.2v-7.6M799.6 328.2v-2.7M800.1 328.2v-6.6M800.5 328.2v-4.9M801.0 328.2v-7.4M801.4 328.2v-3.6M801.9 328.2v-7.1M802.3 328.2v-9.6M802.8 328.2v-11.4M803.2 328.2v-7.1M803.7 328.2v-8.4M804.1 328.2v-4.4M804.6 328.2v-2.0M805.0 328.2v-19.5M805.5 328.2v-2.8M805.9 328.2v-4.8M806.4 328.2v-2.4M806.8 328.2v-15.4M807.3 328.2v-4.2M807.7 328.2v-15.5M808.2 328.2v-3.1M808.6 328.2v-5.6M809.1 328.2v-17.6M809.5 328.2v-7.3M810.0 328.2v-8.3M810.4 328.2v-30.0M810.9 328.2v-7.3M811.3 328.2v-37.2M811.8 328.2v-40.8M812.2 328.2v-6.8M812.7 328.2v-32.5M813.1 328.2v-18.2M813.6 328.2v-8.7M814.0 328.2v-25.7M814.5 328.2v-16.7M814.9 328.2v-35.4M815.4 328.2v-24.1M815.8 328.2v-11.0M816.3 328.2v-19.6M816.7 328.2v-51.6M817.2 328.2v-6.2M817.6 328.2v-4.3M818.1 328.2v-41.4M818.5 328.2v-5.1M819.0 328.2v-5.4M819.4 328.2v-18.4M819.9 328.2v-25.1M820.3 328.2v-11.3M820.8 328.2v-16.3M821.2 328.2v-5.5M821.7 328.2v-8.3M822.1 328.2v-22.4M822.6 328.2v-11.8M823.0 328.2v-11.4M823.5 328.2v-33.0M823.9 328.2v-30.6M824.4 328.2v-17.4M824.8 328.2v-39.2M825.3 328.2v-4.2M825.7 328.2v-30.0M826.2 328.2v-16.1M826.6 328.2v-34.6M827.1 328.2v-9.3M827.5 328.2v-19.0M828.0 328.2v-12.4M828.4 328.2v-7.9M828.9 328.2v-9.9M829.3 328.2v-18.9M829.8 328.2v-9.7M830.2 328.2v-4.2M830.7 328.2v-23.5M831.1 328.2v-5.5M831.6 328.2v-31.2M832.0 328.2v-3.9M832.5 328.2v-4.3M832.9 328.2v-3.6M833.4 328.2v-11.4M833.8 328.2v-19.6M834.3 328.2v-27.4M834.7 328.2v-8.1M835.2 328.2v-3.0M835.6 328.2v-20.8M836.1 328.2v-24.6M836.5 328.2v-16.7M837.0 328.2v-8.0M837.4 328.2v-3.5M837.9 328.2v-12.8M838.3 328.2v-25.3M838.8 328.2v-4.1M839.2 328.2v-28.5M839.7 328.2v-7.9M840.1 328.2v-3.8M840.6 328.2v-31.9M841.0 328.2v-19.4M841.5 328.2v-4.5M841.9 328.2v-15.8M842.4 328.2v-5.3M842.8 328.2v-19.0M843.3 328.2v-8.2M843.7 328.2v-3.7M844.2 328.2v-3.9M844.6 328.2v-14.4M845.1 328.2v-15.3M845.5 328.2v-36.3M846.0 328.2v-17.5M846.4 328.2v-7.3M846.9 328.2v-6.3M847.3 328.2v-29.6M847.8 328.2v-3.7M848.2 328.2v-40.1M848.7 328.2v-22.5M849.1 328.2v-27.4M849.6 328.2v-20.5M850.0 328.2v-3.8M850.5 328.2v-5.5M850.9 328.2v-21.1M851.4 328.2v-8.8M851.8 328.2v-11.4M852.3 328.2v-4.4M852.7 328.2v-5.9M853.2 328.2v-23.5M853.6 328.2v-14.1M854.1 328.2v-27.9M854.5 328.2v-31.2M855.0 328.2v-47.2M855.4 328.2v-36.9M855.9 328.2v-14.1M856.3 328.2v-39.1M856.8 328.2v-17.5M857.2 328.2v-38.0M857.7 328.2v-26.8M858.1 328.2v-26.6M858.6 328.2v-26.4M859.0 328.2v-3.6M859.5 328.2v-13.6M859.9 328.2v-3.1M860.4 328.2v-12.9M860.8 328.2v-8.4M861.3 328.2v-25.3M861.7 328.2v-14.7M862.2 328.2v-7.6M862.6 328.2v-3.9M863.1 328.2v-10.9M863.5 328.2v-2.5M864.0 328.2v-2.6M864.4 328.2v-22.4M864.9 328.2v-4.8M865.3 328.2v-19.8M865.8 328.2v-6.3M866.2 328.2v-10.3M866.7 328.2v-19.1M867.1 328.2v-20.0M867.6 328.2v-7.4M868.0 328.2v-19.1M868.5 328.2v-3.0M868.9 328.2v-5.0M869.4 328.2v-2.6M869.8 328.2v-20.2M870.3 328.2v-2.8M870.7 328.2v-1.8M871.2 328.2v-4.6M871.6 328.2v-18.1M872.1 328.2v-2.6M872.5 328.2v-21.5M873.0 328.2v-2.3M873.4 328.2v-14.9M873.9 328.2v-4.1M874.3 328.2v-18.4M874.8 328.2v-14.5M875.2 328.2v-12.6M875.7 328.2v-25.2M876.1 328.2v-5.3M876.6 328.2v-2.7M877.0 328.2v-8.5M877.5 328.2v-10.5M877.9 328.2v-5.0M878.4 328.2v-2.4M878.8 328.2v-4.1M879.3 328.2v-3.2M879.7 328.2v-23.0M880.2 328.2v-14.9M880.6 328.2v-20.8M881.1 328.2v-3.1M881.5 328.2v-12.3M882.0 328.2v-12.8M882.4 328.2v-9.2M882.9 328.2v-18.8M883.3 328.2v-9.5M883.8 328.2v-3.2M884.2 328.2v-3.1M884.7 328.2v-4.0M885.1 328.2v-17.2M885.6 328.2v-18.0M886.0 328.2v-3.9M886.5 328.2v-9.3M886.9 328.2v-15.1M887.4 328.2v-20.0M887.8 328.2v-2.0M888.3 328.2v-7.2M888.7 328.2v-4.1M889.2 328.2v-2.1M889.6 328.2v-9.7M890.1 328.2v-15.4M890.5 328.2v-4.5M891.0 328.2v-10.4M891.4 328.2v-3.7M891.9 328.2v-2.0M892.3 328.2v-2.5M892.8 328.2v-11.1M893.2 328.2v-13.2M893.7 328.2v-4.6M894.1 328.2v-1.6M894.6 328.2v-11.7M895.0 328.2v-2.0M895.5 328.2v-10.8M895.9 328.2v-13.7M896.4 328.2v-3.2M896.8 328.2v-1.5M897.3 328.2v-10.0M897.7 328.2v-2.3M898.2 328.2v-2.4M898.6 328.2v-13.1M899.1 328.2v-3.3M899.5 328.2v-7.1M900.0 328.2v-7.8M900.4 328.2v-8.7M900.9 328.2v-7.0M901.3 328.2v-5.1M901.8 328.2v-11.9M902.2 328.2v-10.7M902.7 328.2v-2.1M903.1 328.2v-2.0M903.6 328.2v-5.1M904.0 328.2v-14.5M904.5 328.2v-11.3M904.9 328.2v-1.3M905.4 328.2v-3.2M905.8 328.2v-1.7M906.3 328.2v-10.7M906.7 328.2v-2.1M907.2 328.2v-1.3M907.6 328.2v-2.6M908.1 328.2v-6.2M908.5 328.2v-0.8M909.0 328.2v-0.9M909.4 328.2v-2.1M909.9 328.2v-3.7M910.3 328.2v-1.6M910.8 328.2v-4.4M911.2 328.2v-2.8M911.7 328.2v-1.1M912.1 328.2v-1.6M912.6 328.2v-5.0M913.0 328.2v-1.7M913.5 328.2v-2.5M913.9 328.2v-7.1M914.4 328.2v-2.0M914.8 328.2v-0.7M915.3 328.2v-3.7M915.7 328.2v-8.2M916.2 328.2v-7.3M916.6 328.2v-4.5M917.1 328.2v-6.6M917.5 328.2v-0.8M918.0 328.2v-2.1M918.4 328.2v-1.7M918.9 328.2v-1.4M919.3 328.2v-2.6M919.8 328.2v-1.2M920.2 328.2v-2.2M920.7 328.2v-4.3M921.1 328.2v-4.2M921.6 328.2v-1.7M922.0 328.2v-0.6M922.5 328.2v-3.1M922.9 328.2v-1.4M923.4 328.2v-1.5M923.8 328.2v-2.7M924.3 328.2v-0.8M924.7 328.2v-2.9M925.2 328.2v-1.5M925.6 328.2v-5.3M926.1 328.2v-2.8M926.5 328.2v-1.6M927.0 328.2v-1.0M927.4 328.2v-4.3M927.9 328.2v-4.4M928.3 328.2v-1.9M928.8 328.2v-4.8M929.2 328.2v-0.8M929.7 328.2v-0.8M930.1 328.2v-1.3M930.6 328.2v-2.5M931.0 328.2v-2.3M931.5 328.2v-3.5M931.9 328.2v-1.0M932.4 328.2v-0.9M932.8 328.2v-2.6M933.3 328.2v-4.2M933.7 328.2v-0.5M934.2 328.2v-1.5M934.6 328.2v-1.1M935.1 328.2v-1.7M935.5 328.2v-0.9M936.0 328.2v-0.4M936.4 328.2v-0.4M936.9 328.2v-0.4M937.3 328.2v-2.6M937.8 328.2v-0.5M938.2 328.2v-3.1M938.7 328.2v-1.4M939.1 328.2v-1.0M939.6 328.2v-0.6M940.0 328.2v-0.8M940.5 328.2v-2.8M940.9 328.2v-1.6M941.4 328.2v-2.2M941.8 328.2v-2.8M942.3 328.2v-0.4M942.7 328.2v-2.1M943.2 328.2v-0.3M943.6 328.2v-3.5M944.1 328.2v-0.4M944.5 328.2v-1.1M945.0 328.2v-1.1M945.4 328.2v-3.9M945.9 328.2v-0.4M946.3 328.2v-2.5M946.8 328.2v-0.4M947.2 328.2v-1.7M947.7 328.2v-1.1M948.1 328.2v-3.2M948.6 328.2v-2.1M949.0 328.2v-4.1M949.5 328.2v-2.5M949.9 328.2v-3.1M950.4 328.2v-0.5M950.8 328.2v-1.0M951.3 328.2v-0.7M951.7 328.2v-3.2M952.2 328.2v-1.5M952.6 328.2v-2.2M953.1 328.2v-0.9M953.5 328.2v-2.2M954.0 328.2v-4.0M954.4 328.2v-1.6M954.9 328.2v-4.0M955.3 328.2v-8.1M955.8 328.2v-1.0M956.2 328.2v-5.8M956.7 328.2v-2.0M957.1 328.2v-8.6M957.6 328.2v-3.3M958.0 328.2v-6.5M958.5 328.2v-1.3M958.9 328.2v-2.5M959.4 328.2v-2.1M959.8 328.2v-0.8M960.3 328.2v-0.8M960.7 328.2v-7.1M961.2 328.2v-6.0M961.6 328.2v-6.7M962.1 328.2v-6.1M962.5 328.2v-0.9M963.0 328.2v-2.4M963.4 328.2v-1.4M963.9 328.2v-0.7M964.3 328.2v-1.2M964.8 328.2v-2.0M965.2 328.2v-5.5M965.7 328.2v-3.8M966.1 328.2v-1.3M966.6 328.2v-1.5M967.0 328.2v-4.1M967.5 328.2v-2.5M967.9 328.2v-0.8M968.4 328.2v-1.3M968.8 328.2v-0.4M969.3 328.2v-1.4M969.7 328.2v-4.2M970.2 328.2v-0.9M970.6 328.2v-0.4M971.1 328.2v-1.3M971.5 328.2v-0.6M972.0 328.2v-2.5M972.4 328.2v-2.3M972.9 328.2v-0.9M973.3 328.2v-4.1M973.8 328.2v-1.1M974.2 328.2v-0.6M974.7 328.2v-3.4M975.1 328.2v-2.0M975.6 328.2v-1.8M976.0 328.2v-2.3M976.5 328.2v-2.2M976.9 328.2v-1.0M977.4 328.2v-1.7M977.8 328.2v-0.3M978.3 328.2v-1.2M978.7 328.2v-1.8M979.2 328.2v-0.5M979.6 328.2v-3.8M980.1 328.2v-0.8M980.5 328.2v-3.8M981.0 328.2v-3.0M981.4 328.2v-1.3M981.9 328.2v-2.0M982.3 328.2v-2.8M982.8 328.2v-1.4M983.2 328.2v-0.3M983.7 328.2v-2.2M984.1 328.2v-1.2M984.6 328.2v-2.9M985.0 328.2v-1.9M985.5 328.2v-2.6M985.9 328.2v-0.6M986.4 328.2v-3.1M986.8 328.2v-1.7M987.3 328.2v-2.9M987.7 328.2v-0.4M988.2 328.2v-3.5M988.6 328.2v-0.5M989.1 328.2v-3.6M989.5 328.2v-4.0M990.0 328.2v-0.7M990.4 328.2v-4.0M990.9 328.2v-0.7M991.3 328.2v-1.5M991.8 328.2v-1.1M992.2 328.2v-1.0M992.7 328.2v-3.1M993.1 328.2v-3.2M993.6 328.2v-0.6M994.0 328.2v-2.8M994.5 328.2v-1.0M994.9 328.2v-4.8M995.4 328.2v-2.4M995.8 328.2v-1.3M996.3 328.2v-3.6M996.7 328.2v-3.8M997.2 328.2v-5.5M997.6 328.2v-3.8M998.1 328.2v-2.8M998.5 328.2v-3.4M999.0 328.2v-3.5M999.4 328.2v-10.3M999.9 328.2v-17.1M1000.3 328.2v-12.4M1000.8 328.2v-6.3M1001.2 328.2v-3.6M1001.7 328.2v-15.9M1002.1 328.2v-8.2M1002.6 328.2v-1.4M1003.0 328.2v-1.8M1003.5 328.2v-1.9M1003.9 328.2v-4.9M1004.4 328.2v-2.3M1004.8 328.2v-0.5M1005.3 328.2v-1.4M1005.7 328.2v-2.9M1006.2 328.2v-4.8M1006.6 328.2v-1.7M1007.1 328.2v-1.6M1007.5 328.2v-2.3M1008.0 328.2v-4.6M1008.4 328.2v-1.2M1008.9 328.2v-2.3M1009.3 328.2v-4.4M1009.8 328.2v-1.2M1010.2 328.2v-0.6M1010.7 328.2v-0.6M1011.1 328.2v-0.4M1011.6 328.2v-2.4M1012.0 328.2v-1.9M1012.5 328.2v-2.3M1012.9 328.2v-2.1M1013.4 328.2v-0.4M1013.8 328.2v-0.3M1014.3 328.2v-2.8M1014.7 328.2v-0.2M1015.2 328.2v-1.2M1015.6 328.2v-0.3M1016.1 328.2v-0.6M1016.5 328.2v-0.3M1017.0 328.2v-0.3M1017.4 328.2v-0.6M1017.9 328.2v-0.5M1018.3 328.2v-0.3M1018.8 328.2v-1.4M1019.2 328.2v-2.6M1019.7 328.2v-0.4M1020.1 328.2v-1.3M1020.6 328.2v-1.7M1021.0 328.2v-3.3M1021.5 328.2v-0.3M1021.9 328.2v-2.3M1022.4 328.2v-0.4M1022.8 328.2v-0.3M1023.3 328.2v-3.6M1023.7 328.2v-3.0M1024.2 328.2v-0.4M1024.6 328.2v-3.5M1025.1 328.2v-2.1M1025.5 328.2v-3.7M1026.0 328.2v-1.5M1026.4 328.2v-1.1M1026.9 328.2v-0.7M1027.3 328.2v-1.3M1027.8 328.2v-1.0M1028.2 328.2v-1.5M1028.7 328.2v-0.5M1029.1 328.2v-2.8M1029.6 328.2v-1.2M1030.0 328.2v-1.8M1030.5 328.2v-1.5M1030.9 328.2v-3.7M1031.4 328.2v-11.0M1031.8 328.2v-11.8M1032.3 328.2v-6.0M1032.7 328.2v-2.5M1033.2 328.2v-5.7M1033.6 328.2v-4.6M1034.1 328.2v-1.1M1034.5 328.2v-2.1M1035.0 328.2v-3.4M1035.4 328.2v-2.9M1035.9 328.2v-0.9M1036.3 328.2v-6.3M1036.8 328.2v-5.4M1037.2 328.2v-3.2M1037.7 328.2v-0.4M1038.1 328.2v-1.8M1038.6 328.2v-2.3M1039.0 328.2v-2.9M1039.5 328.2v-0.4M1039.9 328.2v-1.4M1040.4 328.2v-4.7M1040.8 328.2v-0.5M1041.3 328.2v-1.5M1041.7 328.2v-1.3M1042.2 328.2v-1.6M1042.6 328.2v-3.3M1043.1 328.2v-4.1M1043.5 328.2v-2.2M1044.0 328.2v-1.1M1044.4 328.2v-2.4M1044.9 328.2v-0.8M1045.3 328.2v-2.3M1045.8 328.2v-0.6M1046.2 328.2v-2.0M1046.7 328.2v-1.6M1047.1 328.2v-5.5M1047.6 328.2v-3.6M1048.0 328.2v-4.3M1048.5 328.2v-0.8M1048.9 328.2v-0.9M1049.4 328.2v-1.6M1049.8 328.2v-2.6M1050.3 328.2v-3.0M1050.7 328.2v-1.7M1051.2 328.2v-2.4M1051.6 328.2v-1.6M1052.1 328.2v-1.1M1052.5 328.2v-3.1M1053.0 328.2v-5.2M1053.4 328.2v-4.1M1053.9 328.2v-3.3M1054.3 328.2v-6.4M1054.8 328.2v-2.1M1055.2 328.2v-1.0M1055.7 328.2v-0.6M1056.1 328.2v-0.5M1056.6 328.2v-2.6M1057.0 328.2v-1.3M1057.5 328.2v-3.9M1057.9 328.2v-0.6M1058.4 328.2v-0.9M1058.8 328.2v-2.8M1059.3 328.2v-2.6M1059.7 328.2v-5.1M1060.2 328.2v-1.4M1060.6 328.2v-3.5M1061.1 328.2v-3.5M1061.5 328.2v-0.5M1062.0 328.2v-1.0M1062.4 328.2v-0.6M1062.9 328.2v-1.1M1063.3 328.2v-2.2M1063.8 328.2v-0.7M1064.2 328.2v-4.5M1064.7 328.2v-2.3M1065.1 328.2v-2.3M1065.6 328.2v-4.9M1066.0 328.2v-1.0M1066.5 328.2v-1.3M1066.9 328.2v-0.8M1067.4 328.2v-1.3M1067.8 328.2v-4.7M1068.3 328.2v-2.2M1068.7 328.2v-4.6M1069.2 328.2v-2.6M1069.6 328.2v-0.5M1070.1 328.2v-0.5M1070.5 328.2v-0.9M1071.0 328.2v-0.4M1071.4 328.2v-0.4" stroke="#0ea74f" stroke-width="0.5" fill="none"/>
<path d="M663.5 328.2v-2.2M665.3 328.2v-2.0M665.7 328.2v-2.2M666.2 328.2v-2.9M668.0 328.2v-4.5M668.9 328.2v-1.4M669.3 328.2v-3.0M670.7 328.2v-1.3M672.5 328.2v-1.1M673.4 328.2v-1.3M673.8 328.2v-3.0M674.7 328.2v-2.7M676.1 328.2v-3.7M676.5 328.2v-3.3M678.3 328.2v-2.7M678.8 328.2v-1.0M681.5 328.2v-3.1M681.9 328.2v-1.1M683.7 328.2v-0.9M684.2 328.2v-2.2M685.1 328.2v-1.0M685.5 328.2v-1.0M686.4 328.2v-2.9M686.9 328.2v-1.1M687.3 328.2v-0.9M689.6 328.2v-0.8M699.9 328.2v-1.6M700.8 328.2v-0.7M701.7 328.2v-2.5M702.6 328.2v-1.9M704.4 328.2v-1.0M705.8 328.2v-1.2M706.2 328.2v-1.3M707.1 328.2v-3.2M708.0 328.2v-3.6M708.9 328.2v-3.3M709.4 328.2v-2.1M710.3 328.2v-1.4M712.1 328.2v-2.5M712.5 328.2v-2.5M713.0 328.2v-1.9M715.7 328.2v-2.5M717.9 328.2v-3.9M718.8 328.2v-5.0M720.6 328.2v-1.8M722.9 328.2v-4.6M723.3 328.2v-3.1M725.1 328.2v-3.3M728.7 328.2v-3.5M732.3 328.2v-3.0M733.7 328.2v-1.9M735.0 328.2v-1.9M735.5 328.2v-2.2M735.9 328.2v-3.8M736.8 328.2v-2.7M738.2 328.2v-3.0M739.5 328.2v-3.3M740.4 328.2v-4.1M741.3 328.2v-1.4M741.8 328.2v-1.2M742.7 328.2v-1.7M743.1 328.2v-1.2M744.0 328.2v-1.8M744.9 328.2v-1.0M745.4 328.2v-1.8M746.3 328.2v-1.1M747.2 328.2v-1.0M748.1 328.2v-1.6M749.0 328.2v-2.4M749.4 328.2v-1.6M750.3 328.2v-1.8M753.0 328.2v-3.4M755.7 328.2v-1.5M756.2 328.2v-1.6M757.5 328.2v-2.5M760.2 328.2v-1.8M760.7 328.2v-1.8M761.1 328.2v-4.1M762.9 328.2v-3.2M763.4 328.2v-5.1M764.7 328.2v-5.8M766.5 328.2v-4.9M767.0 328.2v-2.9M767.4 328.2v-5.4M768.3 328.2v-7.6M768.8 328.2v-7.1M769.7 328.2v-4.7M771.9 328.2v-4.0M772.4 328.2v-5.9M775.1 328.2v-13.6M776.0 328.2v-11.4M777.3 328.2v-21.2M778.2 328.2v-13.0M779.6 328.2v-23.2M780.9 328.2v-28.5M781.4 328.2v-18.8M782.3 328.2v-23.7M783.6 328.2v-26.9M785.4 328.2v-23.0M786.8 328.2v-22.7M787.2 328.2v-23.6M787.7 328.2v-13.1M788.6 328.2v-21.0M790.4 328.2v-12.7M794.4 328.2v-6.8M796.7 328.2v-5.8M798.5 328.2v-6.5M805.7 328.2v-16.9M806.6 328.2v-15.2M807.5 328.2v-24.4M808.4 328.2v-21.2M808.8 328.2v-37.7M809.3 328.2v-22.2M809.7 328.2v-40.9M811.5 328.2v-34.6M812.4 328.2v-55.5M814.2 328.2v-26.2M815.6 328.2v-28.8M816.0 328.2v-56.5M816.9 328.2v-40.4M818.7 328.2v-50.5M822.3 328.2v-60.5M822.8 328.2v-31.0M824.1 328.2v-36.5M825.9 328.2v-40.6M826.4 328.2v-62.9M826.8 328.2v-41.5M827.7 328.2v-30.4M828.6 328.2v-44.1M830.4 328.2v-23.7M832.2 328.2v-22.9M836.7 328.2v-22.7M842.1 328.2v-17.5M843.0 328.2v-40.9M845.3 328.2v-44.4M846.2 328.2v-41.9M847.5 328.2v-32.3M848.0 328.2v-23.2M848.9 328.2v-39.7M850.2 328.2v-34.3M851.1 328.2v-38.1M857.4 328.2v-24.2M858.8 328.2v-35.4M859.2 328.2v-28.6M860.6 328.2v-21.1M861.0 328.2v-17.0M864.6 328.2v-14.6M865.1 328.2v-13.1M866.4 328.2v-12.4M866.9 328.2v-17.0M867.8 328.2v-13.7M870.0 328.2v-17.4M870.9 328.2v-20.2M873.2 328.2v-15.4M873.6 328.2v-14.5M875.4 328.2v-17.5M877.7 328.2v-22.7M878.1 328.2v-27.7M878.6 328.2v-25.5M879.0 328.2v-19.8M879.9 328.2v-17.1M885.8 328.2v-19.4M886.7 328.2v-21.5M887.6 328.2v-14.0M890.3 328.2v-12.4M890.7 328.2v-13.7M892.5 328.2v-11.3M893.4 328.2v-13.1M893.9 328.2v-22.9M895.7 328.2v-10.1M896.1 328.2v-11.2M897.0 328.2v-20.0M897.9 328.2v-11.8M899.7 328.2v-10.3M900.2 328.2v-9.8M902.4 328.2v-10.3M903.3 328.2v-9.3M903.8 328.2v-11.1M904.7 328.2v-9.7M905.6 328.2v-7.1M906.0 328.2v-8.7M908.7 328.2v-6.8M910.1 328.2v-6.7M910.5 328.2v-5.5M911.0 328.2v-6.1M912.8 328.2v-5.4M914.1 328.2v-5.6M914.6 328.2v-4.8M915.9 328.2v-8.1M916.4 328.2v-8.1M917.3 328.2v-7.4M918.2 328.2v-5.5M919.1 328.2v-5.5M919.5 328.2v-7.3M920.0 328.2v-5.0M920.4 328.2v-6.4M921.3 328.2v-5.0M921.8 328.2v-5.0M923.1 328.2v-3.6M924.0 328.2v-6.0M928.1 328.2v-2.9M928.5 328.2v-3.4M929.0 328.2v-2.9M929.9 328.2v-3.9M930.3 328.2v-3.7M932.1 328.2v-5.5M934.8 328.2v-4.4M935.3 328.2v-2.6M935.7 328.2v-3.3M936.2 328.2v-2.2M938.4 328.2v-2.3M940.2 328.2v-3.9M942.9 328.2v-2.2M945.6 328.2v-4.3M946.1 328.2v-2.6M947.0 328.2v-2.2M947.9 328.2v-5.0M948.3 328.2v-3.0M950.1 328.2v-2.5M951.5 328.2v-3.6M951.9 328.2v-6.1M952.4 328.2v-5.8M952.8 328.2v-4.9M953.7 328.2v-6.0M958.2 328.2v-5.7M958.7 328.2v-5.7M960.0 328.2v-9.9M966.8 328.2v-4.3M967.2 328.2v-6.2M968.1 328.2v-3.3M969.5 328.2v-4.1M969.9 328.2v-6.0M972.2 328.2v-2.7M973.1 328.2v-2.9M973.5 328.2v-4.1M975.8 328.2v-5.1M977.1 328.2v-3.7M981.2 328.2v-5.5M981.6 328.2v-4.6M983.9 328.2v-4.2M984.8 328.2v-2.3M985.2 328.2v-3.0M987.5 328.2v-2.8M987.9 328.2v-2.9M988.8 328.2v-3.2M989.7 328.2v-6.7M991.5 328.2v-3.4M992.9 328.2v-3.1M993.8 328.2v-7.8M995.6 328.2v-6.7M1001.0 328.2v-13.5M1001.9 328.2v-14.9M1002.3 328.2v-10.0M1004.6 328.2v-6.1M1005.9 328.2v-5.8M1006.4 328.2v-4.3M1007.3 328.2v-4.3M1009.5 328.2v-3.2M1011.8 328.2v-2.2M1012.7 328.2v-3.9M1017.2 328.2v-2.5M1018.5 328.2v-2.5M1019.4 328.2v-4.0M1021.7 328.2v-4.1M1023.0 328.2v-2.4M1023.9 328.2v-2.8M1024.4 328.2v-2.2M1024.8 328.2v-3.1M1026.6 328.2v-4.3M1028.4 328.2v-5.4M1029.8 328.2v-5.2M1031.1 328.2v-7.4M1031.6 328.2v-9.8M1033.4 328.2v-9.3M1034.3 328.2v-7.2M1035.6 328.2v-9.1M1036.5 328.2v-5.3M1037.4 328.2v-6.2M1038.8 328.2v-5.8M1042.4 328.2v-3.5M1042.8 328.2v-3.0M1043.7 328.2v-3.1M1046.4 328.2v-4.9M1048.2 328.2v-8.3M1049.1 328.2v-3.9M1052.3 328.2v-9.4M1052.7 328.2v-3.9M1055.9 328.2v-9.4M1057.2 328.2v-10.1M1058.6 328.2v-5.4M1059.0 328.2v-7.5M1060.8 328.2v-8.5M1061.3 328.2v-3.7M1062.2 328.2v-3.7M1063.1 328.2v-3.8M1066.2 328.2v-9.2M1068.5 328.2v-3.2M1068.9 328.2v-8.5M1069.4 328.2v-8.0M1071.6 328.2v-4.6" stroke="#3dbb76" stroke-width="0.3" fill="none" opacity="0.6"/>
<path d="M661.3 328.2v-9.0M727.3 328.2v-14.0M754.5 328.2v-19.0M781.4 328.2v-58.0M782.2 328.2v-135.0M783.5 328.2v-40.0M787.0 328.2v-46.0M800.5 328.2v-38.0M807.0 328.2v-60.0M809.5 328.2v-120.0M813.0 328.2v-45.0M817.0 328.2v-82.0M819.0 328.2v-60.0M822.5 328.2v-100.0M824.5 328.2v-96.0M826.5 328.2v-55.0M828.0 328.2v-40.0M831.5 328.2v-42.0M844.0 328.2v-44.0M849.5 328.2v-135.0M850.8 328.2v-60.0M855.0 328.2v-40.0M858.5 328.2v-85.0M859.6 328.2v-58.0M861.0 328.2v-30.0M876.3 328.2v-73.0M885.3 328.2v-76.0M888.5 328.2v-30.0M891.0 328.2v-36.0M893.0 328.2v-32.0M902.5 328.2v-23.0M914.5 328.2v-22.0M925.5 328.2v-17.0M953.5 328.2v-13.0M958.0 328.2v-12.0M969.5 328.2v-12.0M993.0 328.2v-12.0M999.6 328.2v-63.0M1000.4 328.2v-30.0M1033.6 328.2v-29.0M1034.4 328.2v-18.0M1048.5 328.2v-19.0M1053.0 328.2v-14.0M1061.0 328.2v-13.0M1068.5 328.2v-8.0" stroke="#5cc78c" stroke-width="0.5" fill="none" opacity="0.75"/>
<polyline points="660.9,267.5 661.5,262.9 662.1,256.1 662.6,256.5 663.2,255.3 663.8,254.9 664.3,249.2 664.9,264.0 665.5,274.4 666.1,273.0 666.6,259.9 667.2,258.6 667.8,253.8 668.3,263.1 668.8,265.8 669.4,269.8 670.0,270.4 670.6,260.2 671.2,260.7 671.8,261.5 672.4,260.7 672.9,264.5 673.5,265.9 674.1,262.0 674.6,267.5 675.2,264.6 675.8,264.8 676.4,270.1 676.9,268.4 677.5,262.6 678.1,265.2 678.6,270.2 679.2,266.6 679.8,273.2 680.4,274.4 680.9,270.6 681.5,269.1 682.1,276.6 682.6,270.3 683.2,269.9 683.8,272.1 684.4,281.0 684.9,281.3 685.5,282.7 686.1,275.5 686.7,279.7 687.2,274.0 687.8,273.3 688.4,269.8 688.9,268.3 689.5,276.1 690.1,275.0 690.7,278.6 691.2,279.1 691.8,276.7 692.4,274.1 692.9,273.9 693.5,271.4 694.1,270.4 694.7,269.0 695.2,272.1 695.8,272.4 696.4,277.2 696.9,273.9 697.5,282.1 698.1,281.1 698.7,284.7 699.2,278.7 699.8,279.0 700.4,271.6 701.0,267.5 701.5,265.3 702.1,266.2 702.7,267.7 703.2,261.3 703.8,268.9 704.4,264.1 705.0,262.4 705.5,271.5 706.1,274.9 706.7,274.4 707.2,270.4 707.8,277.7 708.4,274.3 709.0,276.6 709.5,271.9 710.1,276.7 710.7,270.9 711.2,270.4 711.8,275.6 712.4,269.8 713.0,267.7 713.5,273.3 714.1,275.4 714.7,272.1 715.3,265.8 715.8,251.5 716.4,251.6 717.0,253.3 717.5,256.3 718.1,260.1 718.7,255.6 719.3,260.7 719.8,261.8 720.4,260.2 721.0,259.4 721.5,253.3 722.1,257.6 722.7,253.8 723.3,250.4 723.8,250.9 724.4,251.6 725.0,252.5 725.5,248.1 726.1,248.1 726.7,256.9 727.3,260.7 727.8,260.9 728.4,259.5 729.0,259.6 729.5,258.7 730.1,258.1 730.7,260.7 731.2,259.8 731.7,264.3 732.2,267.5 732.7,263.7 733.2,264.3 733.7,271.2 734.3,269.8 734.8,270.3 735.3,272.1 735.8,269.4 736.4,270.4 737.0,270.6 737.6,267.3 738.1,265.9 738.7,265.2 739.3,262.9 739.8,268.3 740.4,263.3 741.0,266.4 741.6,257.8 742.1,249.2 742.7,255.5 743.3,255.6 743.8,263.5 744.4,266.4 745.0,270.5 745.6,270.0 746.1,272.4 746.7,272.1 747.3,268.8 747.9,269.8 748.4,267.1 749.0,270.4 749.6,266.1 750.1,266.4 750.7,266.3 751.3,269.8 751.9,269.1 752.4,270.0 753.0,267.1 753.6,267.5 754.1,268.6 754.6,271.2 755.1,270.8 755.6,270.8 756.1,272.7 756.6,272.3 757.1,274.8 757.6,279.6 758.1,277.8 758.7,279.6 759.3,276.7 759.9,275.0 760.4,273.0 761.0,270.6 761.6,272.1 762.2,269.0 762.7,270.4 763.3,269.2 763.9,265.2 764.4,264.8 765.0,267.7 765.6,268.0 766.2,267.9 766.7,268.1 767.3,267.5 767.9,268.2 768.4,265.0 769.0,266.2 769.6,264.1 770.2,261.4 770.7,261.3 771.3,261.7 771.9,259.9 772.4,256.2 773.0,256.1 773.6,258.6 774.2,256.6 774.7,256.0 775.3,252.4 775.9,255.4 776.4,254.9 777.0,253.3 777.5,255.7 778.0,254.3 778.5,256.3 779.0,255.2 779.5,256.0 780.0,253.1 780.5,254.8 781.0,253.8 781.6,248.4 782.2,240.1 782.7,241.5 783.2,238.2 783.7,240.6 784.2,240.3 784.7,238.7 785.2,239.9 785.7,239.3 786.2,236.1 786.7,235.5 787.3,237.4 787.9,236.9 788.5,242.7 789.0,242.4 789.6,244.4 790.2,241.1 790.7,241.6 791.3,241.1 791.9,240.6 792.5,238.9 793.0,237.7 793.5,241.0 794.0,240.5 794.5,241.2 795.0,240.5 795.5,241.8 796.0,242.9 796.5,242.6 797.0,242.4 797.5,243.7 798.1,240.6 798.6,241.5 799.1,243.1 799.6,244.4 800.1,242.5 800.6,245.0 801.1,245.0 801.6,244.6 802.2,243.2 802.8,246.0 803.3,245.6 803.9,245.6 804.5,246.7 805.0,249.2 805.6,243.8 806.2,238.5 806.8,234.0 807.3,228.7 807.9,226.2 808.5,221.8 809.1,222.9 809.6,225.7 810.2,227.4 810.8,228.6 811.3,230.0 811.9,235.9 812.5,234.2 813.1,238.9 813.6,240.9 814.2,244.6 814.8,240.2 815.3,234.8 815.9,234.2 816.5,228.6 817.1,225.9 817.6,222.2 818.2,222.9 818.8,218.3 819.3,218.4 819.9,216.1 820.5,216.2 821.1,218.3 821.6,221.1 822.2,221.4 822.8,220.4 823.3,221.8 823.9,221.9 824.5,219.8 825.1,217.1 825.6,214.7 826.2,215.6 826.8,213.8 827.4,219.8 827.9,225.2 828.5,226.3 829.1,225.2 829.6,222.3 830.2,219.9 830.8,221.4 831.4,218.3 831.9,216.1 832.4,216.7 832.9,219.0 833.4,219.4 833.9,217.2 834.4,219.7 834.9,221.1 835.4,218.8 835.9,219.5 836.4,219.5 836.9,218.9 837.5,219.6 838.0,223.3 838.5,220.8 839.0,224.0 839.5,224.1 840.0,223.0 840.5,222.9 841.0,221.1 841.5,224.0 842.0,221.0 842.5,220.0 843.0,218.9 843.6,221.4 844.1,218.4 844.6,216.8 845.1,217.2 845.7,216.5 846.2,214.2 846.8,216.1 847.4,214.9 848.1,205.5 848.9,196.6 849.4,200.5 850.0,207.7 850.6,212.8 851.1,216.1 851.7,210.3 852.3,209.3 852.9,204.7 853.4,202.3 854.0,205.2 854.6,205.2 855.1,203.4 855.7,204.3 856.3,204.5 856.9,206.9 857.5,205.4 858.1,198.3 858.7,195.5 859.2,202.1 859.8,207.5 860.3,213.8 860.9,215.6 861.4,216.5 862.0,218.4 862.6,216.5 863.2,220.7 863.7,220.6 864.3,218.7 864.9,218.9 865.4,217.0 866.0,215.8 866.6,216.0 867.2,214.9 867.7,216.8 868.3,218.4 868.9,222.4 869.4,223.7 870.0,223.2 870.6,227.5 871.2,225.4 871.7,225.6 872.3,226.9 872.9,224.1 873.5,224.4 874.0,221.2 874.6,217.2 875.2,219.3 875.7,216.1 876.3,214.9 876.9,216.4 877.5,218.2 878.0,219.0 878.6,219.5 879.2,219.0 879.7,220.7 880.3,217.8 880.9,217.4 881.5,219.3 882.0,217.2 882.6,214.4 883.2,213.5 883.7,214.8 884.3,209.8 884.9,212.1 885.5,209.2 886.0,212.1 886.6,212.9 887.2,214.2 887.7,217.2 888.3,217.6 888.9,217.3 889.5,212.6 890.0,213.3 890.6,212.7 891.2,211.5 891.8,211.8 892.3,211.4 892.9,211.0 893.5,213.4 894.0,214.9 894.6,213.8 895.2,210.5 895.8,210.2 896.3,211.9 896.9,209.2 897.4,211.0 897.9,210.7 898.4,208.1 898.9,211.8 899.4,213.4 900.0,213.9 900.5,212.8 901.0,210.1 901.5,212.6 902.0,215.8 902.6,214.3 903.2,217.9 903.8,220.9 904.3,221.3 904.9,221.8 905.5,223.0 906.1,225.3 906.6,228.7 907.2,229.8 907.7,228.3 908.3,228.6 908.8,227.5 909.4,226.3 909.9,226.3 910.6,228.9 911.2,229.9 911.8,233.2 912.3,230.3 912.9,228.8 913.4,226.1 914.0,224.0 914.5,222.9 915.2,227.7 915.9,232.1 916.4,232.8 917.0,233.4 917.5,231.9 918.1,232.8 918.6,233.2 919.1,232.5 919.7,232.9 920.2,232.3 920.7,233.0 921.2,231.5 921.7,230.5 922.2,231.6 922.8,230.9 923.3,231.7 923.8,234.3 924.4,235.5 924.9,238.9 925.4,243.3 926.0,245.8 926.6,245.2 927.2,244.5 927.8,243.5 928.4,247.9 929.0,253.5 929.6,258.4 930.2,255.5 930.8,254.4 931.3,251.5 931.9,249.2 932.5,248.6 933.0,249.1 933.6,249.6 934.1,250.7 934.6,250.4 935.2,249.1 935.8,249.7 936.4,249.0 936.9,247.2 937.5,247.9 938.1,246.9 938.7,245.7 939.2,245.3 939.8,246.0 940.4,244.8 940.9,245.9 941.5,244.6 942.0,244.5 942.5,244.0 943.0,244.9 943.5,243.1 944.1,244.5 944.6,242.9 945.1,243.0 945.6,244.6 946.1,243.5 946.7,242.2 947.2,240.1 947.8,239.3 948.4,238.8 948.9,240.5 949.5,239.7 950.1,239.8 950.7,238.9 951.2,237.2 951.8,237.3 952.4,235.7 953.0,234.5 953.5,233.8 954.1,233.2 954.7,233.5 955.2,233.0 955.8,233.2 956.4,232.7 957.0,234.3 957.5,233.7 958.1,234.9 958.7,236.1 959.2,236.2 959.8,237.9 960.4,238.1 961.0,238.9 961.5,239.7 962.1,240.2 962.7,241.2 963.2,241.0 963.8,240.9 964.4,242.4 965.0,241.5 965.5,242.1 966.1,241.9 966.7,244.0 967.3,243.3 967.8,243.5 968.4,245.6 968.9,245.5 969.4,248.1 970.0,247.3 970.6,247.6 971.2,246.3 971.8,245.2 972.4,244.6 973.0,244.6 973.5,243.9 974.1,244.1 974.7,244.2 975.3,244.8 975.8,245.1 976.4,244.8 977.0,245.8 977.5,244.1 978.1,244.3 978.7,244.2 979.3,244.6 979.8,244.5 980.4,245.3 981.0,245.8 981.5,246.9 982.1,246.7 982.7,245.5 983.3,247.3 983.8,245.9 984.4,246.9 985.0,245.8 985.5,246.0 986.0,245.8 986.5,245.2 987.0,246.1 987.5,244.1 988.0,245.1 988.5,244.1 989.0,244.8 989.6,244.2 990.1,244.3 990.7,242.7 991.2,242.4 991.8,241.7 992.3,242.4 992.9,239.5 993.5,236.9 994.1,235.5 994.7,235.7 995.3,237.3 995.8,236.3 996.4,236.6 997.0,237.3 997.6,237.8 998.1,236.5 998.7,236.6 999.3,235.7 999.9,234.4 1000.4,235.5 1000.9,237.6 1001.5,240.1 1002.0,242.1 1002.6,244.2 1003.2,245.2 1003.8,246.3 1004.4,248.1 1005.0,248.9 1005.6,246.5 1006.1,246.3 1006.7,247.6 1007.3,246.5 1007.9,246.5 1008.4,245.5 1008.9,246.7 1009.4,247.7 1009.9,246.7 1010.4,246.4 1010.9,245.9 1011.4,245.9 1011.9,247.8 1012.4,246.9 1013.0,247.4 1013.6,248.8 1014.2,247.3 1014.7,248.2 1015.3,248.2 1015.9,249.7 1016.4,249.4 1017.0,248.6 1017.6,248.9 1018.2,249.2 1018.7,248.9 1019.3,249.2 1019.8,248.6 1020.3,249.0 1020.8,251.4 1021.3,250.0 1021.8,251.1 1022.3,251.3 1022.9,252.0 1023.4,251.4 1023.9,252.7 1024.4,252.2 1024.9,251.7 1025.4,252.6 1025.9,253.4 1026.4,252.6 1026.9,253.1 1027.4,251.7 1027.9,251.2 1028.4,252.2 1029.0,252.3 1029.5,252.1 1030.0,252.3 1030.5,251.8 1031.0,252.3 1031.5,252.5 1032.1,252.9 1032.6,252.0 1033.1,258.4 1033.7,265.7 1034.2,263.5 1034.7,262.2 1035.3,258.7 1035.8,257.2 1036.3,256.6 1036.8,257.2 1037.3,256.9 1037.8,258.6 1038.3,258.9 1038.9,258.0 1039.4,257.8 1039.9,258.8 1040.5,257.8 1041.0,258.0 1041.6,257.5 1042.2,258.1 1042.7,258.2 1043.3,257.9 1043.8,257.3 1044.3,256.8 1044.8,258.1 1045.4,256.6 1045.9,256.9 1046.4,257.0 1046.9,257.1 1047.4,256.4 1047.9,257.2 1048.5,257.2 1049.0,257.2 1049.6,258.4 1050.2,258.1 1050.8,259.1 1051.3,258.4 1051.9,259.1 1052.5,259.7 1053.0,259.7 1053.6,259.8 1054.2,261.0 1054.8,260.7 1055.3,261.6 1055.9,262.8 1056.5,262.9 1057.0,263.4 1057.6,263.0 1058.2,264.1 1058.8,264.9 1059.3,264.1 1059.9,263.6 1060.5,263.6 1061.1,263.9 1061.6,264.8 1062.2,264.4 1062.8,265.5 1063.3,264.9 1063.9,264.6 1064.5,266.3 1065.1,265.9 1065.6,265.6 1066.2,264.0 1066.8,263.7 1067.3,263.4 1067.9,263.5 1068.5,263.4 1069.1,264.4 1069.7,264.8 1070.3,264.2 1070.9,263.5 1071.5,264.3" fill="none" stroke="#ffb60f" stroke-width="1.9" stroke-linejoin="round"/>
<text transform="translate(664.30,335.2) rotate(-90)" text-anchor="end" font-size="9.5" fill="#595959">2016-10-05</text>
<text transform="translate(677.61,335.2) rotate(-90)" text-anchor="end" font-size="9.5" fill="#595959">2017-01-20</text>
<text transform="translate(690.92,335.2) rotate(-90)" text-anchor="end" font-size="9.5" fill="#595959">2017-05-18</text>
<text transform="translate(704.23,335.2) rotate(-90)" text-anchor="end" font-size="9.5" fill="#595959">2017-09-01</text>
<text transform="translate(717.54,335.2) rotate(-90)" text-anchor="end" font-size="9.5" fill="#595959">2017-12-19</text>
<text transform="translate(730.85,335.2) rotate(-90)" text-anchor="end" font-size="9.5" fill="#595959">2018-04-12</text>
<text transform="translate(744.16,335.2) rotate(-90)" text-anchor="end" font-size="9.5" fill="#595959">2018-08-01</text>
<text transform="translate(757.47,335.2) rotate(-90)" text-anchor="end" font-size="9.5" fill="#595959">2018-11-16</text>
<text transform="translate(770.78,335.2) rotate(-90)" text-anchor="end" font-size="9.5" fill="#595959">2019-03-13</text>
<text transform="translate(784.09,335.2) rotate(-90)" text-anchor="end" font-size="9.5" fill="#595959">2019-07-03</text>
<text transform="translate(797.40,335.2) rotate(-90)" text-anchor="end" font-size="9.5" fill="#595959">2019-10-18</text>
<text transform="translate(810.71,335.2) rotate(-90)" text-anchor="end" font-size="9.5" fill="#595959">2020-02-11</text>
<text transform="translate(824.02,335.2) rotate(-90)" text-anchor="end" font-size="9.5" fill="#595959">2020-06-01</text>
<text transform="translate(837.33,335.2) rotate(-90)" text-anchor="end" font-size="9.5" fill="#595959">2020-09-16</text>
<text transform="translate(850.64,335.2) rotate(-90)" text-anchor="end" font-size="9.5" fill="#595959">2020-12-31</text>
<text transform="translate(863.95,335.2) rotate(-90)" text-anchor="end" font-size="9.5" fill="#595959">2021-04-27</text>
<text transform="translate(877.26,335.2) rotate(-90)" text-anchor="end" font-size="9.5" fill="#595959">2021-08-13</text>
<text transform="translate(890.57,335.2) rotate(-90)" text-anchor="end" font-size="9.5" fill="#595959">2021-12-01</text>
<text transform="translate(903.88,335.2) rotate(-90)" text-anchor="end" font-size="9.5" fill="#595959">2022-03-25</text>
<text transform="translate(917.19,335.2) rotate(-90)" text-anchor="end" font-size="9.5" fill="#595959">2022-07-14</text>
<text transform="translate(930.50,335.2) rotate(-90)" text-anchor="end" font-size="9.5" fill="#595959">2022-11-01</text>
<text transform="translate(943.81,335.2) rotate(-90)" text-anchor="end" font-size="9.5" fill="#595959">2023-02-23</text>
<text transform="translate(957.12,335.2) rotate(-90)" text-anchor="end" font-size="9.5" fill="#595959">2023-06-14</text>
<text transform="translate(970.43,335.2) rotate(-90)" text-anchor="end" font-size="9.5" fill="#595959">2023-10-02</text>
<text transform="translate(983.74,335.2) rotate(-90)" text-anchor="end" font-size="9.5" fill="#595959">2024-01-17</text>
<text transform="translate(997.05,335.2) rotate(-90)" text-anchor="end" font-size="9.5" fill="#595959">2024-05-15</text>
<text transform="translate(1010.36,335.2) rotate(-90)" text-anchor="end" font-size="9.5" fill="#595959">2024-08-29</text>
<text transform="translate(1023.67,335.2) rotate(-90)" text-anchor="end" font-size="9.5" fill="#595959">2024-12-17</text>
<text transform="translate(1036.98,335.2) rotate(-90)" text-anchor="end" font-size="9.5" fill="#595959">2025-04-11</text>
<text transform="translate(1050.29,335.2) rotate(-90)" text-anchor="end" font-size="9.5" fill="#595959">2025-07-31</text>
<text transform="translate(1063.60,335.2) rotate(-90)" text-anchor="end" font-size="9.5" fill="#595959">2025-11-18</text>
<rect x="747" y="398.9" width="22.9" height="6.1" fill="#00b050"/>
<text x="772.6" y="405.3" font-size="10.6" fill="#595959">Khối Lượng (Cột Trái)</text>
<line x1="894" y1="401.6" x2="915.5" y2="401.6" stroke="#ffc000" stroke-width="1.8"/>
<text x="920" y="404.9" font-size="9.4" fill="#595959">Giá (Cột Phải)</text>
<text x="618.2" y="466.8" font-size="13" font-weight="bold" fill="#000">ĐỊNH GIÁ</text>
<line x1="644.9" y1="476.6" x2="1090.6" y2="476.6" stroke="#e3e3e3" stroke-width="1"/>
<line x1="644.9" y1="506.3" x2="1090.6" y2="506.3" stroke="#e3e3e3" stroke-width="1"/>
<line x1="644.9" y1="535.8" x2="1090.6" y2="535.8" stroke="#e3e3e3" stroke-width="1"/>
<line x1="644.9" y1="565.4" x2="1090.6" y2="565.4" stroke="#e3e3e3" stroke-width="1"/>
<line x1="644.9" y1="595.1" x2="1090.6" y2="595.1" stroke="#d0d0d0" stroke-width="1"/>
<line x1="644.9" y1="476.6" x2="644.9" y2="597.5" stroke="#e3e3e3" stroke-width="1"/>
<text x="636.8" y="479.90000000000003" text-anchor="end" font-size="9.45" fill="#000">2000.</text>
<text x="636.8" y="509.6" text-anchor="end" font-size="9.45" fill="#000">1500.</text>
<text x="636.8" y="539.0999999999999" text-anchor="end" font-size="9.45" fill="#000">1000.</text>
<text x="636.8" y="568.6999999999999" text-anchor="end" font-size="9.45" fill="#000">500.</text>
<text x="636.8" y="598.4" text-anchor="end" font-size="9.45" fill="#000">-</text>
<line x1="644.9" y1="595.1" x2="644.9" y2="597.6" stroke="#d9d9d9" stroke-width="1"/>
<line x1="719.2" y1="595.1" x2="719.2" y2="597.6" stroke="#d9d9d9" stroke-width="1"/>
<line x1="793.5" y1="595.1" x2="793.5" y2="597.6" stroke="#d9d9d9" stroke-width="1"/>
<line x1="867.8" y1="595.1" x2="867.8" y2="597.6" stroke="#d9d9d9" stroke-width="1"/>
<line x1="942.0" y1="595.1" x2="942.0" y2="597.6" stroke="#d9d9d9" stroke-width="1"/>
<line x1="1016.3" y1="595.1" x2="1016.3" y2="597.6" stroke="#d9d9d9" stroke-width="1"/>
<line x1="1090.6" y1="595.1" x2="1090.6" y2="597.6" stroke="#d9d9d9" stroke-width="1"/>
<rect x="667.2" y="509.5" width="29.6" height="85.6" fill="#7030a0"/>
<rect x="741.5" y="545.9" width="29.6" height="49.2" fill="#7030a0"/>
<rect x="815.8" y="538.6" width="29.6" height="56.5" fill="#7030a0"/>
<rect x="890.1" y="538.6" width="29.6" height="56.5" fill="#7030a0"/>
<rect x="964.4" y="533.0" width="29.6" height="62.1" fill="#7030a0"/>
<rect x="1038.7" y="526.8" width="29.6" height="68.3" fill="#7030a0"/>
<path d="M682.0 538.2L756.3 495.6L830.6 535.9C855.6 540.4 882.9 547.1 904.9 550.1C929.9 551.7 954.2 552.2 979.2 553.6C1004.2 555.1 1028.5 556.2 1053.5 557.2" fill="none" stroke="#00b050" stroke-width="2.6" stroke-linejoin="round" stroke-linecap="round"/>
<path d="M677.8 538.2L682.0 534.0L686.2 538.2L682.0 542.4Z" fill="#595959"/>
<path d="M752.1 495.6L756.3 491.4L760.5 495.6L756.3 499.8Z" fill="#595959"/>
<path d="M826.4 535.9L830.6 531.6L834.8 535.9L830.6 540.1Z" fill="#595959"/>
<path d="M900.7 550.1L904.9 545.9L909.1 550.1L904.9 554.3Z" fill="#595959"/>
<path d="M975.0 553.6L979.2 549.4L983.4 553.6L979.2 557.8Z" fill="#595959"/>
<path d="M1049.3 557.2L1053.5 553.0L1057.7 557.2L1053.5 561.4Z" fill="#595959"/>
<text x="682.0" y="609.2" text-anchor="middle" font-size="9.2" fill="#000">2023</text>
<text x="756.3" y="609.2" text-anchor="middle" font-size="9.2" fill="#000">2024</text>
<text x="830.6" y="609.2" text-anchor="middle" font-size="9.2" fill="#000">2025</text>
<text x="904.9" y="609.2" text-anchor="middle" font-size="9.2" fill="#000">2026</text>
<text x="979.2" y="609.2" text-anchor="middle" font-size="9.2" fill="#000">2025-12-31</text>
<text x="1053.5" y="609.2" text-anchor="middle" font-size="9.2" fill="#000">2026-12-31</text>
<line x1="1090.7" y1="476.1" x2="1090.7" y2="595.6" stroke="#a6a6a6" stroke-width="1"/>
<line x1="1090.7" y1="476.6" x2="1094.4" y2="476.6" stroke="#a6a6a6" stroke-width="1"/>
<text x="1099.4" y="479.8" font-size="9.0" fill="#000">10.0x</text>
<line x1="1090.7" y1="500.3" x2="1094.4" y2="500.3" stroke="#a6a6a6" stroke-width="1"/>
<text x="1099.4" y="503.5" font-size="9.0" fill="#000">8.0x</text>
<line x1="1090.7" y1="524.0" x2="1094.4" y2="524.0" stroke="#a6a6a6" stroke-width="1"/>
<text x="1099.4" y="527.2" font-size="9.0" fill="#000">6.0x</text>
<line x1="1090.7" y1="547.7" x2="1094.4" y2="547.7" stroke="#a6a6a6" stroke-width="1"/>
<text x="1099.4" y="550.9" font-size="9.0" fill="#000">4.0x</text>
<line x1="1090.7" y1="571.4" x2="1094.4" y2="571.4" stroke="#a6a6a6" stroke-width="1"/>
<text x="1099.4" y="574.6" font-size="9.0" fill="#000">2.0x</text>
<line x1="1090.7" y1="595.1" x2="1094.4" y2="595.1" stroke="#a6a6a6" stroke-width="1"/>
<text x="1099.4" y="598.3" font-size="9.0" fill="#000">0.0x</text>
<rect x="897.4" y="458.7" width="22.4" height="4.3" fill="#7030a0"/>
<text x="922.8" y="464" font-size="9.35" fill="#000">EBITDA</text>
<line x1="998.7" y1="460.8" x2="1022" y2="460.8" stroke="#00b050" stroke-width="2.6" stroke-linecap="round"/>
<path d="M1008 460.8L1010.6 458.2L1013.2 460.8L1010.6 463.4Z" fill="#595959"/>
<text x="1025" y="464" font-size="9.35" fill="#000">TEV / EBITDA</text>
<path d="M650.79 646.5V865.2M655.29 646.5V865.2M664.27 646.5V865.2M668.77 646.5V865.2M677.75 646.5V865.2M682.25 646.5V865.2M691.23 646.5V865.2M695.73 646.5V865.2M704.71 646.5V865.2M709.21 646.5V865.2M718.19 646.5V865.2M722.69 646.5V865.2M731.67 646.5V865.2M736.17 646.5V865.2M745.15 646.5V865.2M749.65 646.5V865.2M758.63 646.5V865.2M763.13 646.5V865.2M772.11 646.5V865.2M776.61 646.5V865.2M785.59 646.5V865.2M790.09 646.5V865.2M799.07 646.5V865.2M803.57 646.5V865.2M812.55 646.5V865.2M817.05 646.5V865.2M826.03 646.5V865.2M830.53 646.5V865.2M839.51 646.5V865.2M844.01 646.5V865.2M852.99 646.5V865.2M857.49 646.5V865.2M866.47 646.5V865.2M870.97 646.5V865.2M879.95 646.5V865.2M884.45 646.5V865.2M893.43 646.5V865.2M897.93 646.5V865.2M906.91 646.5V865.2M911.41 646.5V865.2M920.39 646.5V865.2M924.89 646.5V865.2M933.87 646.5V865.2M938.37 646.5V865.2M947.35 646.5V865.2M951.85 646.5V865.2M960.83 646.5V865.2M965.33 646.5V865.2M974.31 646.5V865.2M978.81 646.5V865.2M987.79 646.5V865.2M992.29 646.5V865.2M1001.27 646.5V865.2M1005.77 646.5V865.2M1014.75 646.5V865.2M1019.25 646.5V865.2M1028.23 646.5V865.2M1032.73 646.5V865.2M1041.71 646.5V865.2M1046.21 646.5V865.2M1055.19 646.5V865.2M1059.69 646.5V865.2M1068.67 646.5V865.2" stroke="#ebebeb" stroke-width="0.9" fill="none"/>
<line x1="646.3" y1="667.7" x2="1070.3" y2="667.7" stroke="#d9d9d9" stroke-width="1.1"/>
<line x1="646.3" y1="689.7" x2="1070.3" y2="689.7" stroke="#d9d9d9" stroke-width="1.1"/>
<line x1="646.3" y1="711.6" x2="1070.3" y2="711.6" stroke="#d9d9d9" stroke-width="1.1"/>
<line x1="646.3" y1="733.6" x2="1070.3" y2="733.6" stroke="#d9d9d9" stroke-width="1.1"/>
<line x1="646.3" y1="755.5" x2="1070.3" y2="755.5" stroke="#d9d9d9" stroke-width="1.1"/>
<line x1="646.3" y1="777.5" x2="1070.3" y2="777.5" stroke="#d9d9d9" stroke-width="1.1"/>
<line x1="646.3" y1="799.4" x2="1070.3" y2="799.4" stroke="#d9d9d9" stroke-width="1.1"/>
<line x1="646.3" y1="821.4" x2="1070.3" y2="821.4" stroke="#d9d9d9" stroke-width="1.1"/>
<line x1="646.3" y1="843.3" x2="1070.3" y2="843.3" stroke="#d9d9d9" stroke-width="1.1"/>
<line x1="646.3" y1="865.2" x2="1070.3" y2="865.2" stroke="#d9d9d9" stroke-width="1.1"/>
<path d="M646.30 646.5V865.2M659.78 646.5V865.2M673.26 646.5V865.2M686.74 646.5V865.2M700.22 646.5V865.2M713.70 646.5V865.2M727.18 646.5V865.2M740.66 646.5V865.2M754.14 646.5V865.2M767.62 646.5V865.2M781.10 646.5V865.2M794.58 646.5V865.2M808.06 646.5V865.2M821.54 646.5V865.2M835.02 646.5V865.2M848.50 646.5V865.2M861.98 646.5V865.2M875.46 646.5V865.2M888.94 646.5V865.2M902.42 646.5V865.2M915.90 646.5V865.2M929.38 646.5V865.2M942.86 646.5V865.2M956.34 646.5V865.2M969.82 646.5V865.2M983.30 646.5V865.2M996.78 646.5V865.2M1010.26 646.5V865.2M1023.74 646.5V865.2M1037.22 646.5V865.2M1050.70 646.5V865.2M1064.18 646.5V865.2" stroke="#a6a6a6" stroke-width="0.9" fill="none"/>
<text x="636.7" y="671.0" text-anchor="end" font-size="9.7" fill="#595959">5,120</text>
<text x="636.7" y="693.0" text-anchor="end" font-size="9.7" fill="#595959">2,560</text>
<text x="636.7" y="714.9" text-anchor="end" font-size="9.7" fill="#595959">1,280</text>
<text x="636.7" y="736.9" text-anchor="end" font-size="9.7" fill="#595959">640</text>
<text x="636.7" y="758.8" text-anchor="end" font-size="9.7" fill="#595959">320</text>
<text x="636.7" y="780.8" text-anchor="end" font-size="9.7" fill="#595959">160</text>
<text x="636.7" y="802.7" text-anchor="end" font-size="9.7" fill="#595959">80</text>
<text x="636.7" y="824.6" text-anchor="end" font-size="9.7" fill="#595959">40</text>
<text x="636.7" y="846.6" text-anchor="end" font-size="9.7" fill="#595959">20</text>
<text x="636.7" y="868.5" text-anchor="end" font-size="9.7" fill="#595959">10</text>
<text x="1081.5" y="672.9" font-size="9.7" fill="#595959">256,000</text>
<text x="1081.5" y="697.4" font-size="9.7" fill="#595959">128,000</text>
<text x="1081.5" y="721.8" font-size="9.7" fill="#595959">64,000</text>
<text x="1081.5" y="746.2" font-size="9.7" fill="#595959">32,000</text>
<text x="1081.5" y="770.7" font-size="9.7" fill="#595959">16,000</text>
<text x="1081.5" y="795.1" font-size="9.7" fill="#595959">8,000</text>
<text x="1081.5" y="819.6" font-size="9.7" fill="#595959">4,000</text>
<text x="1081.5" y="844.0" font-size="9.7" fill="#595959">2,000</text>
<text x="1081.5" y="868.5" font-size="9.7" fill="#595959">1,000</text>
<path d="M648.55 776.5V782.4M653.04 776.1V782.8M657.53 770.9V775.2M662.03 777.0V784.1M666.52 779.6V783.9M671.01 777.3V788.8M675.51 777.2V784.4M680.00 779.8V784.6M684.49 779.8V792.6M688.99 780.8V788.6M693.48 781.8V786.2M697.97 781.6V793.1M702.47 782.7V790.0M706.96 780.4V787.5M711.45 781.2V790.2M715.95 774.6V783.8M720.44 774.7V782.5M724.93 774.1V782.8M729.43 771.2V776.3M733.92 768.7V772.6M738.41 767.8V775.0M742.91 768.6V774.2M747.40 769.8V775.6M751.89 771.6V778.1M756.39 769.2V778.0M760.88 763.7V772.9M765.37 770.1V784.1M769.87 762.1V771.1M774.36 761.2V771.0M778.85 762.0V769.8M783.35 762.0V766.7M787.84 759.6V765.6M792.33 761.5V764.7M796.83 761.2V768.2M801.32 762.6V767.3M805.81 759.8V763.6M810.31 759.6V764.7M814.80 755.9V760.6M819.29 757.0V761.0M823.79 759.0V764.0M828.28 760.9V767.9M832.77 761.6V767.8M837.27 763.5V766.8M841.76 759.3V763.3M846.25 761.0V764.9M850.75 760.0V764.3M855.24 760.9V765.6M859.73 760.3V765.8M864.23 758.3V763.9M868.72 758.7V763.6M873.21 758.7V764.2M877.71 759.2V764.5M882.20 760.1V766.1M886.69 763.8V773.1M891.19 765.9V769.7M895.68 763.6V769.8M900.17 765.2V769.0M904.67 765.9V770.8M909.16 770.6V774.6M913.65 771.8V775.9M918.15 772.3V777.4M922.64 770.5V775.5M927.13 770.5V776.5M931.63 772.2V774.8M936.12 768.5V775.0M940.61 767.7V771.9M945.11 766.0V770.6M949.60 767.9V772.0M954.09 769.7V774.5M958.59 770.4V774.4M963.08 770.5V774.9M967.57 770.1V775.8M972.07 770.8V774.5M976.56 770.5V775.5M981.05 771.5V775.5M985.55 769.1V773.5M990.04 769.8V773.9M994.53 766.7V772.3M999.03 766.2V771.2M1003.52 770.3V775.1M1008.01 770.0V775.8M1012.51 772.4V775.6M1017.00 772.1V776.3M1021.49 771.4V781.9M1025.99 773.6V777.2M1030.48 772.5V778.5M1034.97 772.5V777.8M1039.47 774.0V777.4M1043.96 775.5V780.6M1048.45 776.0V780.3M1052.95 776.2V780.7M1057.44 775.0V780.1M1061.93 777.0V781.8M1066.43 776.2V783.3" stroke="#555" stroke-width="0.8" fill="none"/>
<path d="M646.25 778.2h4.6M650.74 778.2h4.6M655.23 773.7h4.6M659.73 778.2h4.6M664.22 781.5h4.6M668.71 781.0h4.6M673.21 780.5h4.6M677.70 782.6h4.6M682.19 782.6h4.6M686.69 783.3h4.6M691.18 784.7h4.6M695.67 784.7h4.6M700.17 784.7h4.6M704.66 783.7h4.6M709.15 784.2h4.6M713.65 777.6h4.6M718.14 776.9h4.6M722.63 776.4h4.6M727.13 774.6h4.6M731.62 770.2h4.6M736.11 771.4h4.6M740.61 771.4h4.6M745.10 772.3h4.6M749.59 773.7h4.6M754.09 771.8h4.6M758.58 766.6h4.6M763.07 773.4h4.6M767.57 765.0h4.6M772.06 764.5h4.6M776.55 765.4h4.6M781.05 765.0h4.6M785.54 762.9h4.6M790.03 763.4h4.6M794.53 764.5h4.6M799.02 764.1h4.6M803.51 762.0h4.6M808.01 761.5h4.6M812.50 759.3h4.6M816.99 759.7h4.6M821.49 762.0h4.6M825.98 764.3h4.6M830.47 764.1h4.6M834.97 765.4h4.6M839.46 762.0h4.6M843.95 762.7h4.6M848.45 762.7h4.6M852.94 762.2h4.6M857.43 762.2h4.6M861.93 761.8h4.6M866.42 761.1h4.6M870.91 761.5h4.6M875.41 761.8h4.6M879.90 763.6h4.6M884.39 766.1h4.6M888.89 767.7h4.6M893.38 767.3h4.6M897.87 767.7h4.6M902.37 768.2h4.6M906.86 771.8h4.6M911.35 774.6h4.6M915.85 775.0h4.6M920.34 773.4h4.6M924.83 773.4h4.6M929.33 773.4h4.6M933.82 771.4h4.6M938.31 769.6h4.6M942.81 768.6h4.6M947.30 770.0h4.6M951.79 771.8h4.6M956.29 772.3h4.6M960.78 773.7h4.6M965.27 772.8h4.6M969.77 772.8h4.6M974.26 773.7h4.6M978.75 773.2h4.6M983.25 772.1h4.6M987.74 771.8h4.6M992.23 770.0h4.6M996.73 769.6h4.6M1001.22 772.3h4.6M1005.71 773.4h4.6M1010.21 774.1h4.6M1014.70 774.6h4.6M1019.19 774.6h4.6M1023.69 775.3h4.6M1028.18 775.7h4.6M1032.67 775.7h4.6M1037.17 775.5h4.6M1041.66 778.7h4.6M1046.15 778.0h4.6M1050.65 778.5h4.6M1055.14 778.5h4.6M1059.63 778.2h4.6M1064.13 779.6h4.6" stroke="#4472c4" stroke-width="1.1" fill="none"/>
<polyline points="673.3,752.2 700.3,741.2 713.8,770.2 727.1,725.4 740.6,770 754.1,714.2 767.6,748.5 781.1,716.9 794.6,752.4 808.1,717.6 835.1,750.6 848.6,858.8 862.1,740.5 875.4,741 888.9,738.2 902.4,799.8 929.4,843.2 942.9,733 956.4,750.1 983.4,756.5 996.9,738.4 1037.4,754.7 1050.9,742.8" fill="none" stroke="#00b050" stroke-width="1.5" stroke-linejoin="miter"/>
<text transform="translate(649.10,872.6) rotate(-90)" text-anchor="end" font-size="9.7" fill="#595959">Dec-2017</text>
<text transform="translate(662.58,872.6) rotate(-90)" text-anchor="end" font-size="9.7" fill="#595959">Mar-2018</text>
<text transform="translate(676.06,872.6) rotate(-90)" text-anchor="end" font-size="9.7" fill="#595959">Jun-2018</text>
<text transform="translate(689.54,872.6) rotate(-90)" text-anchor="end" font-size="9.7" fill="#595959">Sep-2018</text>
<text transform="translate(703.02,872.6) rotate(-90)" text-anchor="end" font-size="9.7" fill="#595959">Dec-2018</text>
<text transform="translate(716.50,872.6) rotate(-90)" text-anchor="end" font-size="9.7" fill="#595959">Mar-2019</text>
<text transform="translate(729.98,872.6) rotate(-90)" text-anchor="end" font-size="9.7" fill="#595959">Jun-2019</text>
<text transform="translate(743.46,872.6) rotate(-90)" text-anchor="end" font-size="9.7" fill="#595959">Sep-2019</text>
<text transform="translate(756.94,872.6) rotate(-90)" text-anchor="end" font-size="9.7" fill="#595959">Dec-2019</text>
<text transform="translate(770.42,872.6) rotate(-90)" text-anchor="end" font-size="9.7" fill="#595959">Mar-2020</text>
<text transform="translate(783.90,872.6) rotate(-90)" text-anchor="end" font-size="9.7" fill="#595959">Jun-2020</text>
<text transform="translate(797.38,872.6) rotate(-90)" text-anchor="end" font-size="9.7" fill="#595959">Sep-2020</text>
<text transform="translate(810.86,872.6) rotate(-90)" text-anchor="end" font-size="9.7" fill="#595959">Dec-2020</text>
<text transform="translate(824.34,872.6) rotate(-90)" text-anchor="end" font-size="9.7" fill="#595959">Mar-2021</text>
<text transform="translate(837.82,872.6) rotate(-90)" text-anchor="end" font-size="9.7" fill="#595959">Jun-2021</text>
<text transform="translate(851.30,872.6) rotate(-90)" text-anchor="end" font-size="9.7" fill="#595959">Sep-2021</text>
<text transform="translate(864.78,872.6) rotate(-90)" text-anchor="end" font-size="9.7" fill="#595959">Dec-2021</text>
<text transform="translate(878.26,872.6) rotate(-90)" text-anchor="end" font-size="9.7" fill="#595959">Mar-2022</text>
<text transform="translate(891.74,872.6) rotate(-90)" text-anchor="end" font-size="9.7" fill="#595959">Jun-2022</text>
<text transform="translate(905.22,872.6) rotate(-90)" text-anchor="end" font-size="9.7" fill="#595959">Sep-2022</text>
<text transform="translate(918.70,872.6) rotate(-90)" text-anchor="end" font-size="9.7" fill="#595959">Dec-2022</text>
<text transform="translate(932.18,872.6) rotate(-90)" text-anchor="end" font-size="9.7" fill="#595959">Mar-2023</text>
<text transform="translate(945.66,872.6) rotate(-90)" text-anchor="end" font-size="9.7" fill="#595959">Jun-2023</text>
<text transform="translate(959.14,872.6) rotate(-90)" text-anchor="end" font-size="9.7" fill="#595959">Sep-2023</text>
<text transform="translate(972.62,872.6) rotate(-90)" text-anchor="end" font-size="9.7" fill="#595959">Dec-2023</text>
<text transform="translate(986.10,872.6) rotate(-90)" text-anchor="end" font-size="9.7" fill="#595959">Mar-2024</text>
<text transform="translate(999.58,872.6) rotate(-90)" text-anchor="end" font-size="9.7" fill="#595959">Jun-2024</text>
<text transform="translate(1013.06,872.6) rotate(-90)" text-anchor="end" font-size="9.7" fill="#595959">Sep-2024</text>
<text transform="translate(1026.54,872.6) rotate(-90)" text-anchor="end" font-size="9.7" fill="#595959">Dec-2024</text>
<text transform="translate(1040.02,872.6) rotate(-90)" text-anchor="end" font-size="9.7" fill="#595959">Mar-2025</text>
<text transform="translate(1053.50,872.6) rotate(-90)" text-anchor="end" font-size="9.7" fill="#595959">Jun-2025</text>
<text transform="translate(1066.98,872.6) rotate(-90)" text-anchor="end" font-size="9.7" fill="#595959">Sep-2025</text>
<line x1="748" y1="932.5" x2="771.3" y2="932.5" stroke="#00b050" stroke-width="1.5"/>
<text x="773.8" y="935.7" font-size="9.3" fill="#595959">EPS (Cột Trái)</text>
<line x1="857.5" y1="932.5" x2="863.8" y2="932.5" stroke="#4472c4" stroke-width="1.2"/>
<text x="874.5" y="935.7" font-size="9.3" fill="#595959">Giá Đóng Cửa (Cột Phải)</text>
<line x1="160.4" y1="900.5" x2="548.6" y2="900.5" stroke="#e0e0e0" stroke-width="1"/>
<line x1="160.4" y1="919.1" x2="548.6" y2="919.1" stroke="#e0e0e0" stroke-width="1"/>
<line x1="160.4" y1="937.9" x2="548.6" y2="937.9" stroke="#e0e0e0" stroke-width="1"/>
<line x1="160.4" y1="900.5" x2="160.4" y2="937.9" stroke="#e0e0e0" stroke-width="1"/>
<line x1="238.0" y1="919.1" x2="238.0" y2="921.6" stroke="#e0e0e0" stroke-width="1"/>
<line x1="315.7" y1="919.1" x2="315.7" y2="921.6" stroke="#e0e0e0" stroke-width="1"/>
<line x1="393.3" y1="919.1" x2="393.3" y2="921.6" stroke="#e0e0e0" stroke-width="1"/>
<line x1="471.0" y1="919.1" x2="471.0" y2="921.6" stroke="#e0e0e0" stroke-width="1"/>
<line x1="548.6" y1="919.1" x2="548.6" y2="921.6" stroke="#e0e0e0" stroke-width="1"/>
<text x="151.8" y="903.9" text-anchor="end" font-size="8.2" fill="#000">200.0%</text>
<text x="151.8" y="922.5" text-anchor="end" font-size="8.2" fill="#000">0.0%</text>
<text x="151.8" y="941.3" text-anchor="end" font-size="8.2" fill="#000">-200.0%</text>
<rect x="261.9" y="919.1" width="30.8" height="4.1" fill="#7030a0"/>
<rect x="339.4" y="913.5" width="30.8" height="5.6" fill="#7030a0"/>
<rect x="416.9" y="918.0" width="30.8" height="1.1" fill="#9b6fc0"/>
<rect x="494.7" y="919.1" width="30.8" height="0.5" fill="#c5aedb"/>
<text x="199.2" y="952.6" text-anchor="middle" font-size="8.3" fill="#000">2023</text>
<text x="276.9" y="952.6" text-anchor="middle" font-size="8.3" fill="#000">2024</text>
<text x="354.5" y="952.6" text-anchor="middle" font-size="8.3" fill="#000">2025</text>
<text x="432.1" y="952.6" text-anchor="middle" font-size="8.3" fill="#000">2026</text>
<text x="509.8" y="952.6" text-anchor="middle" font-size="8.3" fill="#000">2025-12-31</text>
<text x="199.5" y="912.1" text-anchor="middle" font-size="9.2" fill="#000">0.0%</text>
<text x="277.4" y="938.0" text-anchor="middle" font-size="9.2" fill="#000">-41.3%</text>
<text x="355" y="906.6999999999999" text-anchor="middle" font-size="9.2" fill="#000">62.8%</text>
<text x="432.4" y="911.1" text-anchor="middle" font-size="9.2" fill="#000">11.3%</text>
<text x="510" y="934.0" text-anchor="middle" font-size="9.2" fill="#000">-3.6%</text>
<rect x="478.8" y="893.5" width="5.1" height="5.1" fill="#7030a0"/>
<text x="486.3" y="899.4" font-size="9.5" fill="#000">Tăng Trưởng LN (%)</text></svg>
</div></body></html>
